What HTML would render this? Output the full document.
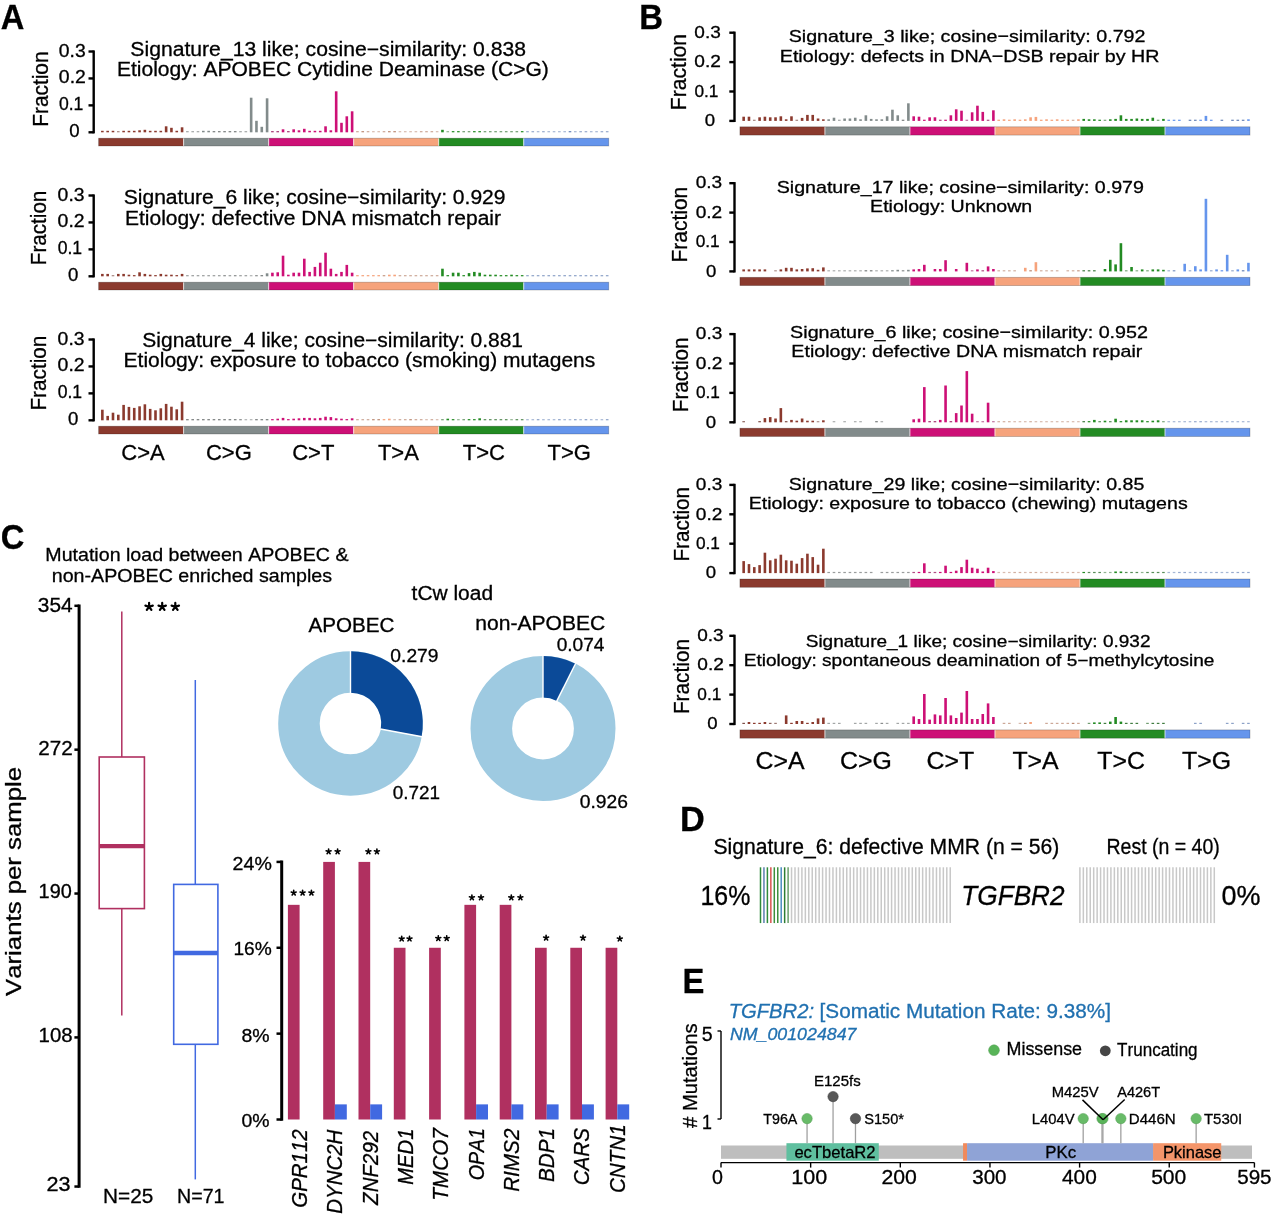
<!DOCTYPE html>
<html><head><meta charset="utf-8"><title>Figure</title>
<style>html,body{margin:0;padding:0;background:#fff;}svg{display:block;filter:blur(0.35px);}text{font-kerning:none;stroke-width:0.3px;}</style>
</head><body>
<svg width="1280" height="1214" viewBox="0 0 1280 1214" font-family="Liberation Sans, sans-serif">
<rect width="1280" height="1214" fill="#fff"/>
<text x="0.69" y="29.40" font-size="35" font-weight="bold" fill="#000" stroke="#000" textLength="23.57" lengthAdjust="spacingAndGlyphs">A</text>
<text x="639.30" y="29.40" font-size="35" font-weight="bold" fill="#000" stroke="#000" textLength="23.80" lengthAdjust="spacingAndGlyphs">B</text>
<text x="0.76" y="549.00" font-size="35" font-weight="bold" fill="#000" stroke="#000" textLength="23.64" lengthAdjust="spacingAndGlyphs">C</text>
<text x="679.95" y="831.40" font-size="35" font-weight="bold" fill="#000" stroke="#000" textLength="24.79" lengthAdjust="spacingAndGlyphs">D</text>
<text x="682.41" y="993.40" font-size="35" font-weight="bold" fill="#000" stroke="#000" textLength="21.88" lengthAdjust="spacingAndGlyphs">E</text>
<line x1="93.70" y1="50.41" x2="93.70" y2="133.40" stroke="#000" stroke-width="2.4"/>
<line x1="88.50" y1="132.30" x2="93.70" y2="132.30" stroke="#000" stroke-width="2.4"/>
<line x1="88.50" y1="105.37" x2="93.70" y2="105.37" stroke="#000" stroke-width="2.4"/>
<line x1="88.50" y1="78.44" x2="93.70" y2="78.44" stroke="#000" stroke-width="2.4"/>
<line x1="88.50" y1="51.51" x2="93.70" y2="51.51" stroke="#000" stroke-width="2.4"/>
<text x="69.17" y="137.30" font-size="18.2" fill="#000" stroke="#000" textLength="10.35" lengthAdjust="spacingAndGlyphs">0</text>
<text x="58.91" y="110.37" font-size="18.2" fill="#000" stroke="#000" textLength="24.45" lengthAdjust="spacingAndGlyphs">0.1</text>
<text x="58.84" y="83.44" font-size="18.2" fill="#000" stroke="#000" textLength="27.04" lengthAdjust="spacingAndGlyphs">0.2</text>
<text x="58.84" y="56.51" font-size="18.2" fill="#000" stroke="#000" textLength="26.91" lengthAdjust="spacingAndGlyphs">0.3</text>
<text transform="translate(47.90,126.81) rotate(-90)" x="0" y="0" font-size="21.3" fill="#000" stroke="#000" textLength="75.37" lengthAdjust="spacingAndGlyphs">Fraction</text>
<rect x="98.60" y="138.20" width="85.02" height="7.80" fill="#8b3a2e"/>
<rect x="183.62" y="138.20" width="85.02" height="7.80" fill="#828b8b"/>
<rect x="268.65" y="138.20" width="85.02" height="7.80" fill="#cd1076"/>
<rect x="353.67" y="138.20" width="85.02" height="7.80" fill="#f6a37c"/>
<rect x="438.70" y="138.20" width="85.02" height="7.80" fill="#238b23"/>
<rect x="523.72" y="138.20" width="85.02" height="7.80" fill="#6595ec"/>
<line x1="183.62" y1="138.20" x2="183.62" y2="146.00" stroke="#ffffff" stroke-width="0.9" opacity="0.8"/>
<line x1="268.65" y1="138.20" x2="268.65" y2="146.00" stroke="#ffffff" stroke-width="0.9" opacity="0.8"/>
<line x1="353.67" y1="138.20" x2="353.67" y2="146.00" stroke="#ffffff" stroke-width="0.9" opacity="0.8"/>
<line x1="438.70" y1="138.20" x2="438.70" y2="146.00" stroke="#ffffff" stroke-width="0.9" opacity="0.8"/>
<line x1="523.72" y1="138.20" x2="523.72" y2="146.00" stroke="#ffffff" stroke-width="0.9" opacity="0.8"/>
<rect x="98.60" y="138.20" width="510.15" height="7.80" fill="none" stroke="#000" stroke-opacity="0.25" stroke-width="0.8"/>
<rect x="101.06" y="130.80" width="2.60" height="1.50" fill="#8b3a2e"/>
<rect x="106.37" y="130.80" width="2.60" height="1.50" fill="#8b3a2e"/>
<rect x="111.69" y="130.80" width="2.60" height="1.50" fill="#8b3a2e"/>
<rect x="117.00" y="131.10" width="2.60" height="1.20" fill="#6f3b33" opacity="0.62"/>
<rect x="122.31" y="130.80" width="2.60" height="1.50" fill="#8b3a2e"/>
<rect x="127.63" y="130.80" width="2.60" height="1.50" fill="#8b3a2e"/>
<rect x="132.94" y="130.80" width="2.60" height="1.50" fill="#8b3a2e"/>
<rect x="138.26" y="130.30" width="2.60" height="2.00" fill="#8b3a2e"/>
<rect x="143.57" y="129.80" width="2.60" height="2.50" fill="#8b3a2e"/>
<rect x="148.88" y="130.80" width="2.60" height="1.50" fill="#8b3a2e"/>
<rect x="154.20" y="130.80" width="2.60" height="1.50" fill="#8b3a2e"/>
<rect x="159.51" y="130.80" width="2.60" height="1.50" fill="#8b3a2e"/>
<rect x="164.83" y="126.30" width="2.60" height="6.00" fill="#8b3a2e"/>
<rect x="170.14" y="127.80" width="2.60" height="4.50" fill="#8b3a2e"/>
<rect x="175.45" y="130.80" width="2.60" height="1.50" fill="#8b3a2e"/>
<rect x="180.77" y="127.30" width="2.60" height="5.00" fill="#8b3a2e"/>
<rect x="186.08" y="131.10" width="2.60" height="1.20" fill="#6a6f6f" opacity="0.62"/>
<rect x="191.40" y="131.10" width="2.60" height="1.20" fill="#6a6f6f" opacity="0.62"/>
<rect x="196.71" y="131.10" width="2.60" height="1.20" fill="#6a6f6f" opacity="0.62"/>
<rect x="202.02" y="130.80" width="2.60" height="1.50" fill="#828b8b"/>
<rect x="207.34" y="130.80" width="2.60" height="1.50" fill="#828b8b"/>
<rect x="212.65" y="131.10" width="2.60" height="1.20" fill="#6a6f6f" opacity="0.90"/>
<rect x="217.97" y="131.10" width="2.60" height="1.20" fill="#6a6f6f" opacity="0.90"/>
<rect x="223.28" y="131.10" width="2.60" height="1.20" fill="#6a6f6f" opacity="0.90"/>
<rect x="228.59" y="131.10" width="2.60" height="1.20" fill="#6a6f6f" opacity="0.90"/>
<rect x="233.91" y="131.10" width="2.60" height="1.20" fill="#6a6f6f" opacity="0.90"/>
<rect x="239.22" y="131.10" width="2.60" height="1.20" fill="#6a6f6f" opacity="0.62"/>
<rect x="244.54" y="131.10" width="2.60" height="1.20" fill="#6a6f6f" opacity="0.62"/>
<rect x="249.85" y="97.70" width="2.60" height="34.60" fill="#828b8b"/>
<rect x="255.16" y="120.80" width="2.60" height="11.50" fill="#828b8b"/>
<rect x="260.48" y="126.80" width="2.60" height="5.50" fill="#828b8b"/>
<rect x="265.79" y="98.30" width="2.60" height="34.00" fill="#828b8b"/>
<rect x="271.11" y="131.10" width="2.60" height="1.20" fill="#9a1f62" opacity="0.90"/>
<rect x="276.42" y="131.10" width="2.60" height="1.20" fill="#9a1f62" opacity="0.90"/>
<rect x="281.74" y="129.30" width="2.60" height="3.00" fill="#cd1076"/>
<rect x="287.05" y="131.10" width="2.60" height="1.20" fill="#9a1f62" opacity="0.90"/>
<rect x="292.36" y="129.30" width="2.60" height="3.00" fill="#cd1076"/>
<rect x="297.68" y="130.30" width="2.60" height="2.00" fill="#cd1076"/>
<rect x="302.99" y="128.80" width="2.60" height="3.50" fill="#cd1076"/>
<rect x="308.31" y="130.80" width="2.60" height="1.50" fill="#cd1076"/>
<rect x="313.62" y="130.80" width="2.60" height="1.50" fill="#cd1076"/>
<rect x="318.93" y="130.80" width="2.60" height="1.50" fill="#cd1076"/>
<rect x="324.25" y="126.30" width="2.60" height="6.00" fill="#cd1076"/>
<rect x="329.56" y="130.30" width="2.60" height="2.00" fill="#cd1076"/>
<rect x="334.88" y="91.30" width="2.60" height="41.00" fill="#cd1076"/>
<rect x="340.19" y="122.80" width="2.60" height="9.50" fill="#cd1076"/>
<rect x="345.50" y="116.30" width="2.60" height="16.00" fill="#cd1076"/>
<rect x="350.82" y="111.30" width="2.60" height="21.00" fill="#cd1076"/>
<rect x="356.13" y="131.10" width="2.60" height="1.20" fill="#b57f66" opacity="0.68"/>
<rect x="361.45" y="131.10" width="2.60" height="1.20" fill="#b57f66" opacity="0.90"/>
<rect x="366.76" y="131.10" width="2.60" height="1.20" fill="#b57f66" opacity="0.68"/>
<rect x="372.07" y="131.10" width="2.60" height="1.20" fill="#b57f66" opacity="0.52"/>
<rect x="377.39" y="131.10" width="2.60" height="1.20" fill="#b57f66" opacity="0.52"/>
<rect x="382.70" y="131.10" width="2.60" height="1.20" fill="#b57f66" opacity="0.68"/>
<rect x="388.02" y="131.10" width="2.60" height="1.20" fill="#b57f66" opacity="0.90"/>
<rect x="393.33" y="131.10" width="2.60" height="1.20" fill="#b57f66" opacity="0.90"/>
<rect x="398.64" y="131.10" width="2.60" height="1.20" fill="#b57f66" opacity="0.52"/>
<rect x="403.96" y="131.10" width="2.60" height="1.20" fill="#b57f66" opacity="0.52"/>
<rect x="409.27" y="131.10" width="2.60" height="1.20" fill="#b57f66" opacity="0.52"/>
<rect x="414.59" y="131.10" width="2.60" height="1.20" fill="#b57f66" opacity="0.52"/>
<rect x="419.90" y="131.10" width="2.60" height="1.20" fill="#b57f66" opacity="0.68"/>
<rect x="425.21" y="131.10" width="2.60" height="1.20" fill="#b57f66" opacity="0.68"/>
<rect x="430.53" y="131.10" width="2.60" height="1.20" fill="#b57f66" opacity="0.68"/>
<rect x="435.84" y="131.10" width="2.60" height="1.20" fill="#b57f66" opacity="0.52"/>
<rect x="441.16" y="129.80" width="2.60" height="2.50" fill="#238b23"/>
<rect x="446.47" y="131.10" width="2.60" height="1.20" fill="#2c6f2c" opacity="0.52"/>
<rect x="451.79" y="131.10" width="2.60" height="1.20" fill="#238b23"/>
<rect x="457.10" y="131.10" width="2.60" height="1.20" fill="#238b23"/>
<rect x="462.41" y="131.10" width="2.60" height="1.20" fill="#2c6f2c" opacity="0.68"/>
<rect x="467.73" y="131.10" width="2.60" height="1.20" fill="#2c6f2c" opacity="0.68"/>
<rect x="473.04" y="131.10" width="2.60" height="1.20" fill="#238b23"/>
<rect x="478.36" y="131.10" width="2.60" height="1.20" fill="#238b23"/>
<rect x="483.67" y="131.10" width="2.60" height="1.20" fill="#2c6f2c" opacity="0.68"/>
<rect x="488.98" y="131.10" width="2.60" height="1.20" fill="#2c6f2c" opacity="0.68"/>
<rect x="494.30" y="131.10" width="2.60" height="1.20" fill="#2c6f2c" opacity="0.68"/>
<rect x="499.61" y="131.10" width="2.60" height="1.20" fill="#2c6f2c" opacity="0.68"/>
<rect x="504.93" y="131.10" width="2.60" height="1.20" fill="#2c6f2c" opacity="0.68"/>
<rect x="510.24" y="131.10" width="2.60" height="1.20" fill="#2c6f2c" opacity="0.68"/>
<rect x="515.55" y="131.10" width="2.60" height="1.20" fill="#2c6f2c" opacity="0.68"/>
<rect x="520.87" y="131.10" width="2.60" height="1.20" fill="#238b23"/>
<rect x="526.18" y="131.10" width="2.60" height="1.20" fill="#5776ae" opacity="0.62"/>
<rect x="531.50" y="131.10" width="2.60" height="1.20" fill="#5776ae" opacity="0.62"/>
<rect x="536.81" y="131.10" width="2.60" height="1.20" fill="#5776ae" opacity="0.52"/>
<rect x="542.12" y="131.10" width="2.60" height="1.20" fill="#5776ae" opacity="0.62"/>
<rect x="547.44" y="131.10" width="2.60" height="1.20" fill="#5776ae" opacity="0.52"/>
<rect x="552.75" y="131.10" width="2.60" height="1.20" fill="#5776ae" opacity="0.52"/>
<rect x="558.07" y="131.10" width="2.60" height="1.20" fill="#5776ae" opacity="0.52"/>
<rect x="563.38" y="131.10" width="2.60" height="1.20" fill="#5776ae" opacity="0.52"/>
<rect x="568.69" y="131.10" width="2.60" height="1.20" fill="#5776ae" opacity="0.90"/>
<rect x="574.01" y="131.10" width="2.60" height="1.20" fill="#5776ae" opacity="0.52"/>
<rect x="579.32" y="131.10" width="2.60" height="1.20" fill="#5776ae" opacity="0.62"/>
<rect x="584.64" y="131.10" width="2.60" height="1.20" fill="#5776ae" opacity="0.62"/>
<rect x="589.95" y="131.10" width="2.60" height="1.20" fill="#5776ae" opacity="0.52"/>
<rect x="595.26" y="131.10" width="2.60" height="1.20" fill="#5776ae" opacity="0.52"/>
<rect x="600.58" y="131.10" width="2.60" height="1.20" fill="#5776ae" opacity="0.62"/>
<rect x="605.89" y="131.10" width="2.60" height="1.20" fill="#5776ae" opacity="0.62"/>
<text x="130.34" y="56.30" font-size="20.0" fill="#000" stroke="#000" textLength="395.68" lengthAdjust="spacingAndGlyphs">Signature_13 like; cosine−similarity: 0.838</text>
<text x="116.98" y="76.30" font-size="20.0" fill="#000" stroke="#000" textLength="431.83" lengthAdjust="spacingAndGlyphs">Etiology: APOBEC Cytidine Deaminase (C&gt;G)</text>
<line x1="93.70" y1="194.41" x2="93.70" y2="277.40" stroke="#000" stroke-width="2.4"/>
<line x1="88.50" y1="276.30" x2="93.70" y2="276.30" stroke="#000" stroke-width="2.4"/>
<line x1="88.50" y1="249.37" x2="93.70" y2="249.37" stroke="#000" stroke-width="2.4"/>
<line x1="88.50" y1="222.44" x2="93.70" y2="222.44" stroke="#000" stroke-width="2.4"/>
<line x1="88.50" y1="195.51" x2="93.70" y2="195.51" stroke="#000" stroke-width="2.4"/>
<text x="68.07" y="281.30" font-size="18.2" fill="#000" stroke="#000" textLength="10.35" lengthAdjust="spacingAndGlyphs">0</text>
<text x="57.71" y="254.37" font-size="18.2" fill="#000" stroke="#000" textLength="24.45" lengthAdjust="spacingAndGlyphs">0.1</text>
<text x="57.64" y="227.44" font-size="18.2" fill="#000" stroke="#000" textLength="27.04" lengthAdjust="spacingAndGlyphs">0.2</text>
<text x="57.64" y="200.51" font-size="18.2" fill="#000" stroke="#000" textLength="26.91" lengthAdjust="spacingAndGlyphs">0.3</text>
<text transform="translate(45.90,265.19) rotate(-90)" x="0" y="0" font-size="21.3" fill="#000" stroke="#000" textLength="74.53" lengthAdjust="spacingAndGlyphs">Fraction</text>
<rect x="98.60" y="282.20" width="85.02" height="7.80" fill="#8b3a2e"/>
<rect x="183.62" y="282.20" width="85.02" height="7.80" fill="#828b8b"/>
<rect x="268.65" y="282.20" width="85.02" height="7.80" fill="#cd1076"/>
<rect x="353.67" y="282.20" width="85.02" height="7.80" fill="#f6a37c"/>
<rect x="438.70" y="282.20" width="85.02" height="7.80" fill="#238b23"/>
<rect x="523.72" y="282.20" width="85.02" height="7.80" fill="#6595ec"/>
<line x1="183.62" y1="282.20" x2="183.62" y2="290.00" stroke="#ffffff" stroke-width="0.9" opacity="0.8"/>
<line x1="268.65" y1="282.20" x2="268.65" y2="290.00" stroke="#ffffff" stroke-width="0.9" opacity="0.8"/>
<line x1="353.67" y1="282.20" x2="353.67" y2="290.00" stroke="#ffffff" stroke-width="0.9" opacity="0.8"/>
<line x1="438.70" y1="282.20" x2="438.70" y2="290.00" stroke="#ffffff" stroke-width="0.9" opacity="0.8"/>
<line x1="523.72" y1="282.20" x2="523.72" y2="290.00" stroke="#ffffff" stroke-width="0.9" opacity="0.8"/>
<rect x="98.60" y="282.20" width="510.15" height="7.80" fill="none" stroke="#000" stroke-opacity="0.25" stroke-width="0.8"/>
<rect x="101.06" y="273.90" width="2.60" height="2.40" fill="#8b3a2e"/>
<rect x="106.37" y="273.90" width="2.60" height="2.40" fill="#8b3a2e"/>
<rect x="111.69" y="275.10" width="2.60" height="1.20" fill="#6f3b33" opacity="0.62"/>
<rect x="117.00" y="273.90" width="2.60" height="2.40" fill="#8b3a2e"/>
<rect x="122.31" y="273.90" width="2.60" height="2.40" fill="#8b3a2e"/>
<rect x="127.63" y="274.70" width="2.60" height="1.60" fill="#8b3a2e"/>
<rect x="132.94" y="275.10" width="2.60" height="1.20" fill="#8b3a2e"/>
<rect x="138.26" y="272.30" width="2.60" height="4.00" fill="#8b3a2e"/>
<rect x="143.57" y="273.90" width="2.60" height="2.40" fill="#8b3a2e"/>
<rect x="148.88" y="274.70" width="2.60" height="1.60" fill="#8b3a2e"/>
<rect x="154.20" y="275.10" width="2.60" height="1.20" fill="#8b3a2e"/>
<rect x="159.51" y="273.90" width="2.60" height="2.40" fill="#8b3a2e"/>
<rect x="164.83" y="274.70" width="2.60" height="1.60" fill="#8b3a2e"/>
<rect x="170.14" y="274.70" width="2.60" height="1.60" fill="#8b3a2e"/>
<rect x="175.45" y="275.10" width="2.60" height="1.20" fill="#8b3a2e"/>
<rect x="180.77" y="273.90" width="2.60" height="2.40" fill="#8b3a2e"/>
<rect x="186.08" y="275.10" width="2.60" height="1.20" fill="#6a6f6f" opacity="0.68"/>
<rect x="191.40" y="275.10" width="2.60" height="1.20" fill="#6a6f6f" opacity="0.68"/>
<rect x="196.71" y="275.10" width="2.60" height="1.20" fill="#6a6f6f" opacity="0.68"/>
<rect x="202.02" y="275.10" width="2.60" height="1.20" fill="#6a6f6f" opacity="0.68"/>
<rect x="207.34" y="275.10" width="2.60" height="1.20" fill="#6a6f6f" opacity="0.68"/>
<rect x="212.65" y="275.10" width="2.60" height="1.20" fill="#6a6f6f" opacity="0.68"/>
<rect x="217.97" y="275.10" width="2.60" height="1.20" fill="#6a6f6f" opacity="0.68"/>
<rect x="223.28" y="275.10" width="2.60" height="1.20" fill="#6a6f6f" opacity="0.79"/>
<rect x="228.59" y="275.10" width="2.60" height="1.20" fill="#6a6f6f" opacity="0.68"/>
<rect x="233.91" y="275.10" width="2.60" height="1.20" fill="#6a6f6f" opacity="0.79"/>
<rect x="239.22" y="275.10" width="2.60" height="1.20" fill="#6a6f6f" opacity="0.68"/>
<rect x="244.54" y="275.10" width="2.60" height="1.20" fill="#6a6f6f" opacity="0.68"/>
<rect x="249.85" y="275.10" width="2.60" height="1.20" fill="#6a6f6f" opacity="0.52"/>
<rect x="255.16" y="275.10" width="2.60" height="1.20" fill="#6a6f6f" opacity="0.79"/>
<rect x="260.48" y="275.10" width="2.60" height="1.20" fill="#6a6f6f" opacity="0.90"/>
<rect x="265.79" y="273.30" width="2.60" height="3.00" fill="#828b8b"/>
<rect x="271.11" y="272.70" width="2.60" height="3.60" fill="#cd1076"/>
<rect x="276.42" y="272.30" width="2.60" height="4.00" fill="#cd1076"/>
<rect x="281.74" y="255.70" width="2.60" height="20.60" fill="#cd1076"/>
<rect x="287.05" y="274.70" width="2.60" height="1.60" fill="#cd1076"/>
<rect x="292.36" y="272.70" width="2.60" height="3.60" fill="#cd1076"/>
<rect x="297.68" y="272.70" width="2.60" height="3.60" fill="#cd1076"/>
<rect x="302.99" y="258.70" width="2.60" height="17.60" fill="#cd1076"/>
<rect x="308.31" y="271.90" width="2.60" height="4.40" fill="#cd1076"/>
<rect x="313.62" y="266.90" width="2.60" height="9.40" fill="#cd1076"/>
<rect x="318.93" y="262.70" width="2.60" height="13.60" fill="#cd1076"/>
<rect x="324.25" y="252.70" width="2.60" height="23.60" fill="#cd1076"/>
<rect x="329.56" y="268.70" width="2.60" height="7.60" fill="#cd1076"/>
<rect x="334.88" y="273.90" width="2.60" height="2.40" fill="#cd1076"/>
<rect x="340.19" y="271.90" width="2.60" height="4.40" fill="#cd1076"/>
<rect x="345.50" y="264.90" width="2.60" height="11.40" fill="#cd1076"/>
<rect x="350.82" y="272.70" width="2.60" height="3.60" fill="#cd1076"/>
<rect x="356.13" y="275.10" width="2.60" height="1.20" fill="#f6a37c"/>
<rect x="361.45" y="275.10" width="2.60" height="1.20" fill="#f6a37c"/>
<rect x="366.76" y="275.10" width="2.60" height="1.20" fill="#f6a37c"/>
<rect x="372.07" y="275.10" width="2.60" height="1.20" fill="#f6a37c"/>
<rect x="377.39" y="275.10" width="2.60" height="1.20" fill="#f6a37c"/>
<rect x="382.70" y="275.10" width="2.60" height="1.20" fill="#b57f66" opacity="0.79"/>
<rect x="388.02" y="274.70" width="2.60" height="1.60" fill="#f6a37c"/>
<rect x="393.33" y="274.70" width="2.60" height="1.60" fill="#f6a37c"/>
<rect x="398.64" y="275.10" width="2.60" height="1.20" fill="#b57f66" opacity="0.68"/>
<rect x="403.96" y="275.10" width="2.60" height="1.20" fill="#b57f66" opacity="0.68"/>
<rect x="409.27" y="275.10" width="2.60" height="1.20" fill="#b57f66" opacity="0.68"/>
<rect x="414.59" y="275.10" width="2.60" height="1.20" fill="#b57f66" opacity="0.68"/>
<rect x="419.90" y="275.10" width="2.60" height="1.20" fill="#b57f66" opacity="0.68"/>
<rect x="425.21" y="275.10" width="2.60" height="1.20" fill="#b57f66" opacity="0.68"/>
<rect x="430.53" y="275.10" width="2.60" height="1.20" fill="#b57f66" opacity="0.68"/>
<rect x="435.84" y="275.10" width="2.60" height="1.20" fill="#b57f66" opacity="0.68"/>
<rect x="441.16" y="268.70" width="2.60" height="7.60" fill="#238b23"/>
<rect x="446.47" y="275.10" width="2.60" height="1.20" fill="#238b23"/>
<rect x="451.79" y="272.70" width="2.60" height="3.60" fill="#238b23"/>
<rect x="457.10" y="272.70" width="2.60" height="3.60" fill="#238b23"/>
<rect x="462.41" y="275.10" width="2.60" height="1.20" fill="#238b23"/>
<rect x="467.73" y="273.10" width="2.60" height="3.20" fill="#238b23"/>
<rect x="473.04" y="271.90" width="2.60" height="4.40" fill="#238b23"/>
<rect x="478.36" y="272.70" width="2.60" height="3.60" fill="#238b23"/>
<rect x="483.67" y="274.70" width="2.60" height="1.60" fill="#238b23"/>
<rect x="488.98" y="274.70" width="2.60" height="1.60" fill="#238b23"/>
<rect x="494.30" y="274.70" width="2.60" height="1.60" fill="#238b23"/>
<rect x="499.61" y="275.10" width="2.60" height="1.20" fill="#238b23"/>
<rect x="504.93" y="275.10" width="2.60" height="1.20" fill="#238b23"/>
<rect x="510.24" y="274.70" width="2.60" height="1.60" fill="#238b23"/>
<rect x="515.55" y="275.10" width="2.60" height="1.20" fill="#238b23"/>
<rect x="520.87" y="275.10" width="2.60" height="1.20" fill="#238b23"/>
<rect x="526.18" y="275.10" width="2.60" height="1.20" fill="#5776ae" opacity="0.68"/>
<rect x="531.50" y="275.10" width="2.60" height="1.20" fill="#5776ae" opacity="0.68"/>
<rect x="536.81" y="275.10" width="2.60" height="1.20" fill="#5776ae" opacity="0.68"/>
<rect x="542.12" y="275.10" width="2.60" height="1.20" fill="#5776ae" opacity="0.68"/>
<rect x="547.44" y="275.10" width="2.60" height="1.20" fill="#5776ae" opacity="0.68"/>
<rect x="552.75" y="275.10" width="2.60" height="1.20" fill="#5776ae" opacity="0.68"/>
<rect x="558.07" y="275.10" width="2.60" height="1.20" fill="#5776ae" opacity="0.68"/>
<rect x="563.38" y="275.10" width="2.60" height="1.20" fill="#5776ae" opacity="0.68"/>
<rect x="568.69" y="275.10" width="2.60" height="1.20" fill="#5776ae" opacity="0.68"/>
<rect x="574.01" y="275.10" width="2.60" height="1.20" fill="#5776ae" opacity="0.68"/>
<rect x="579.32" y="275.10" width="2.60" height="1.20" fill="#5776ae" opacity="0.68"/>
<rect x="584.64" y="275.10" width="2.60" height="1.20" fill="#5776ae" opacity="0.68"/>
<rect x="589.95" y="275.10" width="2.60" height="1.20" fill="#5776ae" opacity="0.68"/>
<rect x="595.26" y="275.10" width="2.60" height="1.20" fill="#5776ae" opacity="0.68"/>
<rect x="600.58" y="275.10" width="2.60" height="1.20" fill="#5776ae" opacity="0.68"/>
<rect x="605.89" y="275.10" width="2.60" height="1.20" fill="#5776ae" opacity="0.68"/>
<text x="123.74" y="204.30" font-size="20.0" fill="#000" stroke="#000" textLength="381.75" lengthAdjust="spacingAndGlyphs">Signature_6 like; cosine−similarity: 0.929</text>
<text x="124.98" y="224.60" font-size="20.0" fill="#000" stroke="#000" textLength="376.07" lengthAdjust="spacingAndGlyphs">Etiology: defective DNA mismatch repair</text>
<line x1="93.70" y1="338.41" x2="93.70" y2="421.40" stroke="#000" stroke-width="2.4"/>
<line x1="88.50" y1="420.30" x2="93.70" y2="420.30" stroke="#000" stroke-width="2.4"/>
<line x1="88.50" y1="393.37" x2="93.70" y2="393.37" stroke="#000" stroke-width="2.4"/>
<line x1="88.50" y1="366.44" x2="93.70" y2="366.44" stroke="#000" stroke-width="2.4"/>
<line x1="88.50" y1="339.51" x2="93.70" y2="339.51" stroke="#000" stroke-width="2.4"/>
<text x="68.07" y="425.30" font-size="18.2" fill="#000" stroke="#000" textLength="10.35" lengthAdjust="spacingAndGlyphs">0</text>
<text x="57.71" y="398.37" font-size="18.2" fill="#000" stroke="#000" textLength="24.45" lengthAdjust="spacingAndGlyphs">0.1</text>
<text x="57.64" y="371.44" font-size="18.2" fill="#000" stroke="#000" textLength="27.04" lengthAdjust="spacingAndGlyphs">0.2</text>
<text x="57.64" y="344.51" font-size="18.2" fill="#000" stroke="#000" textLength="26.91" lengthAdjust="spacingAndGlyphs">0.3</text>
<text transform="translate(46.30,410.60) rotate(-90)" x="0" y="0" font-size="21.3" fill="#000" stroke="#000" textLength="74.95" lengthAdjust="spacingAndGlyphs">Fraction</text>
<rect x="98.60" y="426.20" width="85.02" height="7.80" fill="#8b3a2e"/>
<rect x="183.62" y="426.20" width="85.02" height="7.80" fill="#828b8b"/>
<rect x="268.65" y="426.20" width="85.02" height="7.80" fill="#cd1076"/>
<rect x="353.67" y="426.20" width="85.02" height="7.80" fill="#f6a37c"/>
<rect x="438.70" y="426.20" width="85.02" height="7.80" fill="#238b23"/>
<rect x="523.72" y="426.20" width="85.02" height="7.80" fill="#6595ec"/>
<line x1="183.62" y1="426.20" x2="183.62" y2="434.00" stroke="#ffffff" stroke-width="0.9" opacity="0.8"/>
<line x1="268.65" y1="426.20" x2="268.65" y2="434.00" stroke="#ffffff" stroke-width="0.9" opacity="0.8"/>
<line x1="353.67" y1="426.20" x2="353.67" y2="434.00" stroke="#ffffff" stroke-width="0.9" opacity="0.8"/>
<line x1="438.70" y1="426.20" x2="438.70" y2="434.00" stroke="#ffffff" stroke-width="0.9" opacity="0.8"/>
<line x1="523.72" y1="426.20" x2="523.72" y2="434.00" stroke="#ffffff" stroke-width="0.9" opacity="0.8"/>
<rect x="98.60" y="426.20" width="510.15" height="7.80" fill="none" stroke="#000" stroke-opacity="0.25" stroke-width="0.8"/>
<rect x="101.06" y="409.70" width="2.60" height="10.60" fill="#8b3a2e"/>
<rect x="106.37" y="415.90" width="2.60" height="4.40" fill="#8b3a2e"/>
<rect x="111.69" y="412.70" width="2.60" height="7.60" fill="#8b3a2e"/>
<rect x="117.00" y="414.70" width="2.60" height="5.60" fill="#8b3a2e"/>
<rect x="122.31" y="404.90" width="2.60" height="15.40" fill="#8b3a2e"/>
<rect x="127.63" y="406.90" width="2.60" height="13.40" fill="#8b3a2e"/>
<rect x="132.94" y="407.90" width="2.60" height="12.40" fill="#8b3a2e"/>
<rect x="138.26" y="406.30" width="2.60" height="14.00" fill="#8b3a2e"/>
<rect x="143.57" y="404.30" width="2.60" height="16.00" fill="#8b3a2e"/>
<rect x="148.88" y="408.90" width="2.60" height="11.40" fill="#8b3a2e"/>
<rect x="154.20" y="410.30" width="2.60" height="10.00" fill="#8b3a2e"/>
<rect x="159.51" y="408.30" width="2.60" height="12.00" fill="#8b3a2e"/>
<rect x="164.83" y="403.90" width="2.60" height="16.40" fill="#8b3a2e"/>
<rect x="170.14" y="406.70" width="2.60" height="13.60" fill="#8b3a2e"/>
<rect x="175.45" y="409.30" width="2.60" height="11.00" fill="#8b3a2e"/>
<rect x="180.77" y="401.70" width="2.60" height="18.60" fill="#8b3a2e"/>
<rect x="186.08" y="419.10" width="2.60" height="1.20" fill="#6a6f6f" opacity="0.90"/>
<rect x="191.40" y="419.10" width="2.60" height="1.20" fill="#6a6f6f" opacity="0.90"/>
<rect x="196.71" y="419.10" width="2.60" height="1.20" fill="#6a6f6f" opacity="0.90"/>
<rect x="202.02" y="419.10" width="2.60" height="1.20" fill="#6a6f6f" opacity="0.90"/>
<rect x="207.34" y="419.10" width="2.60" height="1.20" fill="#6a6f6f" opacity="0.90"/>
<rect x="212.65" y="419.10" width="2.60" height="1.20" fill="#6a6f6f" opacity="0.90"/>
<rect x="217.97" y="419.10" width="2.60" height="1.20" fill="#6a6f6f" opacity="0.90"/>
<rect x="223.28" y="419.10" width="2.60" height="1.20" fill="#6a6f6f" opacity="0.90"/>
<rect x="228.59" y="419.10" width="2.60" height="1.20" fill="#6a6f6f" opacity="0.90"/>
<rect x="233.91" y="419.10" width="2.60" height="1.20" fill="#6a6f6f" opacity="0.90"/>
<rect x="239.22" y="419.10" width="2.60" height="1.20" fill="#6a6f6f" opacity="0.79"/>
<rect x="244.54" y="419.10" width="2.60" height="1.20" fill="#6a6f6f" opacity="0.52"/>
<rect x="249.85" y="419.10" width="2.60" height="1.20" fill="#6a6f6f" opacity="0.52"/>
<rect x="255.16" y="419.10" width="2.60" height="1.20" fill="#6a6f6f" opacity="0.90"/>
<rect x="260.48" y="419.10" width="2.60" height="1.20" fill="#6a6f6f" opacity="0.90"/>
<rect x="265.79" y="419.10" width="2.60" height="1.20" fill="#6a6f6f" opacity="0.90"/>
<rect x="271.11" y="419.10" width="2.60" height="1.20" fill="#cd1076"/>
<rect x="276.42" y="418.70" width="2.60" height="1.60" fill="#cd1076"/>
<rect x="281.74" y="417.90" width="2.60" height="2.40" fill="#cd1076"/>
<rect x="287.05" y="419.10" width="2.60" height="1.20" fill="#cd1076"/>
<rect x="292.36" y="418.70" width="2.60" height="1.60" fill="#cd1076"/>
<rect x="297.68" y="418.30" width="2.60" height="2.00" fill="#cd1076"/>
<rect x="302.99" y="417.90" width="2.60" height="2.40" fill="#cd1076"/>
<rect x="308.31" y="417.90" width="2.60" height="2.40" fill="#cd1076"/>
<rect x="313.62" y="418.30" width="2.60" height="2.00" fill="#cd1076"/>
<rect x="318.93" y="417.90" width="2.60" height="2.40" fill="#cd1076"/>
<rect x="324.25" y="416.70" width="2.60" height="3.60" fill="#cd1076"/>
<rect x="329.56" y="417.10" width="2.60" height="3.20" fill="#cd1076"/>
<rect x="334.88" y="418.30" width="2.60" height="2.00" fill="#cd1076"/>
<rect x="340.19" y="418.70" width="2.60" height="1.60" fill="#cd1076"/>
<rect x="345.50" y="419.10" width="2.60" height="1.20" fill="#cd1076"/>
<rect x="350.82" y="418.30" width="2.60" height="2.00" fill="#cd1076"/>
<rect x="356.13" y="419.10" width="2.60" height="1.20" fill="#b57f66" opacity="0.68"/>
<rect x="361.45" y="419.10" width="2.60" height="1.20" fill="#b57f66" opacity="0.68"/>
<rect x="366.76" y="419.10" width="2.60" height="1.20" fill="#b57f66" opacity="0.68"/>
<rect x="372.07" y="419.10" width="2.60" height="1.20" fill="#b57f66" opacity="0.90"/>
<rect x="377.39" y="419.10" width="2.60" height="1.20" fill="#b57f66" opacity="0.90"/>
<rect x="382.70" y="419.10" width="2.60" height="1.20" fill="#f6a37c"/>
<rect x="388.02" y="418.70" width="2.60" height="1.60" fill="#f6a37c"/>
<rect x="393.33" y="419.10" width="2.60" height="1.20" fill="#b57f66" opacity="0.52"/>
<rect x="398.64" y="419.10" width="2.60" height="1.20" fill="#b57f66" opacity="0.68"/>
<rect x="403.96" y="419.10" width="2.60" height="1.20" fill="#b57f66" opacity="0.68"/>
<rect x="409.27" y="419.10" width="2.60" height="1.20" fill="#b57f66" opacity="0.90"/>
<rect x="414.59" y="419.10" width="2.60" height="1.20" fill="#b57f66" opacity="0.68"/>
<rect x="419.90" y="419.10" width="2.60" height="1.20" fill="#b57f66" opacity="0.68"/>
<rect x="425.21" y="419.10" width="2.60" height="1.20" fill="#b57f66" opacity="0.52"/>
<rect x="430.53" y="419.10" width="2.60" height="1.20" fill="#b57f66" opacity="0.68"/>
<rect x="435.84" y="419.10" width="2.60" height="1.20" fill="#b57f66" opacity="0.52"/>
<rect x="441.16" y="419.10" width="2.60" height="1.20" fill="#2c6f2c" opacity="0.68"/>
<rect x="446.47" y="418.70" width="2.60" height="1.60" fill="#238b23"/>
<rect x="451.79" y="419.10" width="2.60" height="1.20" fill="#238b23"/>
<rect x="457.10" y="419.10" width="2.60" height="1.20" fill="#2c6f2c" opacity="0.52"/>
<rect x="462.41" y="419.10" width="2.60" height="1.20" fill="#2c6f2c" opacity="0.68"/>
<rect x="467.73" y="419.10" width="2.60" height="1.20" fill="#238b23"/>
<rect x="473.04" y="419.10" width="2.60" height="1.20" fill="#238b23"/>
<rect x="478.36" y="418.30" width="2.60" height="2.00" fill="#238b23"/>
<rect x="483.67" y="419.10" width="2.60" height="1.20" fill="#2c6f2c" opacity="0.79"/>
<rect x="488.98" y="419.10" width="2.60" height="1.20" fill="#2c6f2c" opacity="0.79"/>
<rect x="494.30" y="419.10" width="2.60" height="1.20" fill="#2c6f2c" opacity="0.79"/>
<rect x="499.61" y="419.10" width="2.60" height="1.20" fill="#2c6f2c" opacity="0.79"/>
<rect x="504.93" y="419.10" width="2.60" height="1.20" fill="#2c6f2c" opacity="0.79"/>
<rect x="510.24" y="419.10" width="2.60" height="1.20" fill="#2c6f2c" opacity="0.52"/>
<rect x="515.55" y="419.10" width="2.60" height="1.20" fill="#2c6f2c" opacity="0.79"/>
<rect x="520.87" y="419.10" width="2.60" height="1.20" fill="#2c6f2c" opacity="0.79"/>
<rect x="526.18" y="419.10" width="2.60" height="1.20" fill="#5776ae" opacity="0.52"/>
<rect x="531.50" y="419.10" width="2.60" height="1.20" fill="#5776ae" opacity="0.52"/>
<rect x="536.81" y="419.10" width="2.60" height="1.20" fill="#5776ae" opacity="0.68"/>
<rect x="542.12" y="419.10" width="2.60" height="1.20" fill="#5776ae" opacity="0.52"/>
<rect x="547.44" y="419.10" width="2.60" height="1.20" fill="#5776ae" opacity="0.52"/>
<rect x="552.75" y="419.10" width="2.60" height="1.20" fill="#5776ae" opacity="0.52"/>
<rect x="558.07" y="419.10" width="2.60" height="1.20" fill="#5776ae" opacity="0.68"/>
<rect x="563.38" y="419.10" width="2.60" height="1.20" fill="#5776ae" opacity="0.52"/>
<rect x="568.69" y="419.10" width="2.60" height="1.20" fill="#5776ae" opacity="0.52"/>
<rect x="574.01" y="419.10" width="2.60" height="1.20" fill="#5776ae" opacity="0.68"/>
<rect x="579.32" y="419.10" width="2.60" height="1.20" fill="#5776ae" opacity="0.52"/>
<rect x="584.64" y="419.10" width="2.60" height="1.20" fill="#5776ae" opacity="0.68"/>
<rect x="589.95" y="419.10" width="2.60" height="1.20" fill="#5776ae" opacity="0.52"/>
<rect x="595.26" y="419.10" width="2.60" height="1.20" fill="#5776ae" opacity="0.52"/>
<rect x="600.58" y="419.10" width="2.60" height="1.20" fill="#5776ae" opacity="0.52"/>
<rect x="605.89" y="419.10" width="2.60" height="1.20" fill="#5776ae" opacity="0.68"/>
<text x="142.35" y="346.90" font-size="20.0" fill="#000" stroke="#000" textLength="380.68" lengthAdjust="spacingAndGlyphs">Signature_4 like; cosine−similarity: 0.881</text>
<text x="123.58" y="366.80" font-size="20.0" fill="#000" stroke="#000" textLength="471.68" lengthAdjust="spacingAndGlyphs">Etiology: exposure to tobacco (smoking) mutagens</text>
<line x1="734.50" y1="31.60" x2="734.50" y2="122.00" stroke="#000" stroke-width="2.4"/>
<line x1="729.30" y1="120.90" x2="734.50" y2="120.90" stroke="#000" stroke-width="2.4"/>
<line x1="729.30" y1="91.50" x2="734.50" y2="91.50" stroke="#000" stroke-width="2.4"/>
<line x1="729.30" y1="62.10" x2="734.50" y2="62.10" stroke="#000" stroke-width="2.4"/>
<line x1="729.30" y1="32.70" x2="734.50" y2="32.70" stroke="#000" stroke-width="2.4"/>
<text x="704.77" y="126.10" font-size="16.8" fill="#000" stroke="#000" textLength="10.35" lengthAdjust="spacingAndGlyphs">0</text>
<text x="694.43" y="96.70" font-size="16.8" fill="#000" stroke="#000" textLength="24.02" lengthAdjust="spacingAndGlyphs">0.1</text>
<text x="694.35" y="67.30" font-size="16.8" fill="#000" stroke="#000" textLength="26.61" lengthAdjust="spacingAndGlyphs">0.2</text>
<text x="694.36" y="37.90" font-size="16.8" fill="#000" stroke="#000" textLength="26.48" lengthAdjust="spacingAndGlyphs">0.3</text>
<text transform="translate(685.70,110.23) rotate(-90)" x="0" y="0" font-size="21.3" fill="#000" stroke="#000" textLength="76.30" lengthAdjust="spacingAndGlyphs">Fraction</text>
<rect x="739.90" y="126.80" width="85.02" height="8.30" fill="#8b3a2e"/>
<rect x="824.92" y="126.80" width="85.02" height="8.30" fill="#828b8b"/>
<rect x="909.93" y="126.80" width="85.02" height="8.30" fill="#cd1076"/>
<rect x="994.95" y="126.80" width="85.02" height="8.30" fill="#f6a37c"/>
<rect x="1079.97" y="126.80" width="85.02" height="8.30" fill="#238b23"/>
<rect x="1164.98" y="126.80" width="85.02" height="8.30" fill="#6595ec"/>
<line x1="824.92" y1="126.80" x2="824.92" y2="135.10" stroke="#ffffff" stroke-width="0.9" opacity="0.8"/>
<line x1="909.93" y1="126.80" x2="909.93" y2="135.10" stroke="#ffffff" stroke-width="0.9" opacity="0.8"/>
<line x1="994.95" y1="126.80" x2="994.95" y2="135.10" stroke="#ffffff" stroke-width="0.9" opacity="0.8"/>
<line x1="1079.97" y1="126.80" x2="1079.97" y2="135.10" stroke="#ffffff" stroke-width="0.9" opacity="0.8"/>
<line x1="1164.98" y1="126.80" x2="1164.98" y2="135.10" stroke="#ffffff" stroke-width="0.9" opacity="0.8"/>
<rect x="739.90" y="126.80" width="510.10" height="8.30" fill="none" stroke="#000" stroke-opacity="0.25" stroke-width="0.8"/>
<rect x="742.36" y="116.70" width="2.60" height="4.20" fill="#8b3a2e"/>
<rect x="747.67" y="116.70" width="2.60" height="4.20" fill="#8b3a2e"/>
<rect x="752.98" y="119.70" width="2.60" height="1.20" fill="#6f3b33" opacity="0.62"/>
<rect x="758.30" y="117.30" width="2.60" height="3.60" fill="#8b3a2e"/>
<rect x="763.61" y="116.70" width="2.60" height="4.20" fill="#8b3a2e"/>
<rect x="768.92" y="117.30" width="2.60" height="3.60" fill="#8b3a2e"/>
<rect x="774.24" y="117.30" width="2.60" height="3.60" fill="#8b3a2e"/>
<rect x="779.55" y="116.30" width="2.60" height="4.60" fill="#8b3a2e"/>
<rect x="784.87" y="119.30" width="2.60" height="1.60" fill="#8b3a2e"/>
<rect x="790.18" y="116.30" width="2.60" height="4.60" fill="#8b3a2e"/>
<rect x="795.49" y="119.70" width="2.60" height="1.20" fill="#6f3b33" opacity="0.62"/>
<rect x="800.81" y="117.90" width="2.60" height="3.00" fill="#8b3a2e"/>
<rect x="806.12" y="114.90" width="2.60" height="6.00" fill="#8b3a2e"/>
<rect x="811.43" y="114.90" width="2.60" height="6.00" fill="#8b3a2e"/>
<rect x="816.75" y="118.50" width="2.60" height="2.40" fill="#8b3a2e"/>
<rect x="822.06" y="119.30" width="2.60" height="1.60" fill="#8b3a2e"/>
<rect x="827.37" y="119.30" width="2.60" height="1.60" fill="#828b8b"/>
<rect x="832.69" y="117.70" width="2.60" height="3.20" fill="#828b8b"/>
<rect x="838.00" y="119.70" width="2.60" height="1.20" fill="#6a6f6f" opacity="0.62"/>
<rect x="843.31" y="118.50" width="2.60" height="2.40" fill="#828b8b"/>
<rect x="848.63" y="118.50" width="2.60" height="2.40" fill="#828b8b"/>
<rect x="853.94" y="117.70" width="2.60" height="3.20" fill="#828b8b"/>
<rect x="859.25" y="119.30" width="2.60" height="1.60" fill="#828b8b"/>
<rect x="864.57" y="115.30" width="2.60" height="5.60" fill="#828b8b"/>
<rect x="869.88" y="118.90" width="2.60" height="2.00" fill="#828b8b"/>
<rect x="875.20" y="119.30" width="2.60" height="1.60" fill="#828b8b"/>
<rect x="880.51" y="119.30" width="2.60" height="1.60" fill="#828b8b"/>
<rect x="885.82" y="116.30" width="2.60" height="4.60" fill="#828b8b"/>
<rect x="891.14" y="109.70" width="2.60" height="11.20" fill="#828b8b"/>
<rect x="896.45" y="115.30" width="2.60" height="5.60" fill="#828b8b"/>
<rect x="901.76" y="119.70" width="2.60" height="1.20" fill="#6a6f6f" opacity="0.90"/>
<rect x="907.08" y="103.30" width="2.60" height="17.60" fill="#828b8b"/>
<rect x="912.39" y="116.30" width="2.60" height="4.60" fill="#cd1076"/>
<rect x="917.70" y="116.70" width="2.60" height="4.20" fill="#cd1076"/>
<rect x="923.02" y="119.70" width="2.60" height="1.20" fill="#cd1076"/>
<rect x="928.33" y="117.30" width="2.60" height="3.60" fill="#cd1076"/>
<rect x="933.64" y="117.30" width="2.60" height="3.60" fill="#cd1076"/>
<rect x="938.96" y="119.70" width="2.60" height="1.20" fill="#9a1f62" opacity="0.79"/>
<rect x="944.27" y="119.70" width="2.60" height="1.20" fill="#cd1076"/>
<rect x="949.58" y="115.30" width="2.60" height="5.60" fill="#cd1076"/>
<rect x="954.90" y="109.30" width="2.60" height="11.60" fill="#cd1076"/>
<rect x="960.21" y="110.70" width="2.60" height="10.20" fill="#cd1076"/>
<rect x="965.53" y="119.70" width="2.60" height="1.20" fill="#9a1f62" opacity="0.62"/>
<rect x="970.84" y="112.30" width="2.60" height="8.60" fill="#cd1076"/>
<rect x="976.15" y="105.70" width="2.60" height="15.20" fill="#cd1076"/>
<rect x="981.47" y="111.90" width="2.60" height="9.00" fill="#cd1076"/>
<rect x="986.78" y="119.70" width="2.60" height="1.20" fill="#9a1f62" opacity="0.79"/>
<rect x="992.09" y="110.30" width="2.60" height="10.60" fill="#cd1076"/>
<rect x="997.41" y="119.70" width="2.60" height="1.20" fill="#f6a37c"/>
<rect x="1002.72" y="119.30" width="2.60" height="1.60" fill="#f6a37c"/>
<rect x="1008.03" y="119.70" width="2.60" height="1.20" fill="#f6a37c"/>
<rect x="1013.35" y="119.30" width="2.60" height="1.60" fill="#f6a37c"/>
<rect x="1018.66" y="119.70" width="2.60" height="1.20" fill="#f6a37c"/>
<rect x="1023.97" y="119.30" width="2.60" height="1.60" fill="#f6a37c"/>
<rect x="1029.29" y="117.30" width="2.60" height="3.60" fill="#f6a37c"/>
<rect x="1034.60" y="116.90" width="2.60" height="4.00" fill="#f6a37c"/>
<rect x="1039.92" y="119.70" width="2.60" height="1.20" fill="#f6a37c"/>
<rect x="1045.23" y="119.30" width="2.60" height="1.60" fill="#f6a37c"/>
<rect x="1050.54" y="119.70" width="2.60" height="1.20" fill="#f6a37c"/>
<rect x="1055.86" y="119.30" width="2.60" height="1.60" fill="#f6a37c"/>
<rect x="1061.17" y="119.70" width="2.60" height="1.20" fill="#f6a37c"/>
<rect x="1066.48" y="119.70" width="2.60" height="1.20" fill="#f6a37c"/>
<rect x="1071.80" y="119.70" width="2.60" height="1.20" fill="#b57f66" opacity="0.62"/>
<rect x="1077.11" y="119.30" width="2.60" height="1.60" fill="#f6a37c"/>
<rect x="1082.42" y="118.90" width="2.60" height="2.00" fill="#238b23"/>
<rect x="1087.74" y="119.30" width="2.60" height="1.60" fill="#238b23"/>
<rect x="1093.05" y="119.30" width="2.60" height="1.60" fill="#238b23"/>
<rect x="1098.36" y="119.70" width="2.60" height="1.20" fill="#238b23"/>
<rect x="1103.68" y="119.70" width="2.60" height="1.20" fill="#2c6f2c" opacity="0.62"/>
<rect x="1108.99" y="119.30" width="2.60" height="1.60" fill="#238b23"/>
<rect x="1114.30" y="118.90" width="2.60" height="2.00" fill="#238b23"/>
<rect x="1119.62" y="115.30" width="2.60" height="5.60" fill="#238b23"/>
<rect x="1124.93" y="118.90" width="2.60" height="2.00" fill="#238b23"/>
<rect x="1130.25" y="118.90" width="2.60" height="2.00" fill="#238b23"/>
<rect x="1135.56" y="118.50" width="2.60" height="2.40" fill="#238b23"/>
<rect x="1140.87" y="118.90" width="2.60" height="2.00" fill="#238b23"/>
<rect x="1146.19" y="118.90" width="2.60" height="2.00" fill="#238b23"/>
<rect x="1151.50" y="117.70" width="2.60" height="3.20" fill="#238b23"/>
<rect x="1156.81" y="119.70" width="2.60" height="1.20" fill="#2c6f2c" opacity="0.62"/>
<rect x="1162.13" y="118.90" width="2.60" height="2.00" fill="#238b23"/>
<rect x="1167.44" y="119.70" width="2.60" height="1.20" fill="#6595ec"/>
<rect x="1172.75" y="119.70" width="2.60" height="1.20" fill="#6595ec"/>
<rect x="1178.07" y="119.70" width="2.60" height="1.20" fill="#6595ec"/>
<rect x="1188.69" y="119.70" width="2.60" height="1.20" fill="#5776ae" opacity="0.90"/>
<rect x="1194.01" y="119.70" width="2.60" height="1.20" fill="#5776ae" opacity="0.90"/>
<rect x="1199.32" y="119.70" width="2.60" height="1.20" fill="#6595ec"/>
<rect x="1204.63" y="115.90" width="2.60" height="5.00" fill="#6595ec"/>
<rect x="1209.95" y="119.70" width="2.60" height="1.20" fill="#6595ec"/>
<rect x="1220.58" y="119.70" width="2.60" height="1.20" fill="#5776ae" opacity="0.90"/>
<rect x="1231.20" y="119.70" width="2.60" height="1.20" fill="#5776ae" opacity="0.90"/>
<rect x="1236.52" y="119.70" width="2.60" height="1.20" fill="#5776ae" opacity="0.90"/>
<rect x="1241.83" y="119.70" width="2.60" height="1.20" fill="#5776ae" opacity="0.90"/>
<rect x="1247.14" y="119.30" width="2.60" height="1.60" fill="#6595ec"/>
<text x="788.71" y="42.40" font-size="17.0" fill="#000" stroke="#000" textLength="356.78" lengthAdjust="spacingAndGlyphs">Signature_3 like; cosine−similarity: 0.792</text>
<text x="779.79" y="61.60" font-size="17.0" fill="#000" stroke="#000" textLength="379.62" lengthAdjust="spacingAndGlyphs">Etiology: defects in DNA−DSB repair by HR</text>
<line x1="734.50" y1="182.10" x2="734.50" y2="272.50" stroke="#000" stroke-width="2.4"/>
<line x1="729.30" y1="271.40" x2="734.50" y2="271.40" stroke="#000" stroke-width="2.4"/>
<line x1="729.30" y1="242.00" x2="734.50" y2="242.00" stroke="#000" stroke-width="2.4"/>
<line x1="729.30" y1="212.60" x2="734.50" y2="212.60" stroke="#000" stroke-width="2.4"/>
<line x1="729.30" y1="183.20" x2="734.50" y2="183.20" stroke="#000" stroke-width="2.4"/>
<text x="706.07" y="276.60" font-size="16.8" fill="#000" stroke="#000" textLength="10.35" lengthAdjust="spacingAndGlyphs">0</text>
<text x="695.73" y="247.20" font-size="16.8" fill="#000" stroke="#000" textLength="24.02" lengthAdjust="spacingAndGlyphs">0.1</text>
<text x="695.65" y="217.80" font-size="16.8" fill="#000" stroke="#000" textLength="26.61" lengthAdjust="spacingAndGlyphs">0.2</text>
<text x="695.66" y="188.40" font-size="16.8" fill="#000" stroke="#000" textLength="26.48" lengthAdjust="spacingAndGlyphs">0.3</text>
<text transform="translate(686.70,262.42) rotate(-90)" x="0" y="0" font-size="21.3" fill="#000" stroke="#000" textLength="75.57" lengthAdjust="spacingAndGlyphs">Fraction</text>
<rect x="739.90" y="277.30" width="85.02" height="8.30" fill="#8b3a2e"/>
<rect x="824.92" y="277.30" width="85.02" height="8.30" fill="#828b8b"/>
<rect x="909.93" y="277.30" width="85.02" height="8.30" fill="#cd1076"/>
<rect x="994.95" y="277.30" width="85.02" height="8.30" fill="#f6a37c"/>
<rect x="1079.97" y="277.30" width="85.02" height="8.30" fill="#238b23"/>
<rect x="1164.98" y="277.30" width="85.02" height="8.30" fill="#6595ec"/>
<line x1="824.92" y1="277.30" x2="824.92" y2="285.60" stroke="#ffffff" stroke-width="0.9" opacity="0.8"/>
<line x1="909.93" y1="277.30" x2="909.93" y2="285.60" stroke="#ffffff" stroke-width="0.9" opacity="0.8"/>
<line x1="994.95" y1="277.30" x2="994.95" y2="285.60" stroke="#ffffff" stroke-width="0.9" opacity="0.8"/>
<line x1="1079.97" y1="277.30" x2="1079.97" y2="285.60" stroke="#ffffff" stroke-width="0.9" opacity="0.8"/>
<line x1="1164.98" y1="277.30" x2="1164.98" y2="285.60" stroke="#ffffff" stroke-width="0.9" opacity="0.8"/>
<rect x="739.90" y="277.30" width="510.10" height="8.30" fill="none" stroke="#000" stroke-opacity="0.25" stroke-width="0.8"/>
<rect x="742.36" y="269.40" width="2.60" height="2.00" fill="#8b3a2e"/>
<rect x="747.67" y="269.40" width="2.60" height="2.00" fill="#8b3a2e"/>
<rect x="752.98" y="269.40" width="2.60" height="2.00" fill="#8b3a2e"/>
<rect x="758.30" y="269.40" width="2.60" height="2.00" fill="#8b3a2e"/>
<rect x="763.61" y="269.40" width="2.60" height="2.00" fill="#8b3a2e"/>
<rect x="774.24" y="270.20" width="2.60" height="1.20" fill="#6f3b33" opacity="0.57"/>
<rect x="779.55" y="269.40" width="2.60" height="2.00" fill="#8b3a2e"/>
<rect x="784.87" y="267.80" width="2.60" height="3.60" fill="#8b3a2e"/>
<rect x="790.18" y="267.80" width="2.60" height="3.60" fill="#8b3a2e"/>
<rect x="795.49" y="269.40" width="2.60" height="2.00" fill="#8b3a2e"/>
<rect x="800.81" y="269.00" width="2.60" height="2.40" fill="#8b3a2e"/>
<rect x="806.12" y="268.40" width="2.60" height="3.00" fill="#8b3a2e"/>
<rect x="811.43" y="268.20" width="2.60" height="3.20" fill="#8b3a2e"/>
<rect x="816.75" y="269.80" width="2.60" height="1.60" fill="#8b3a2e"/>
<rect x="822.06" y="267.40" width="2.60" height="4.00" fill="#8b3a2e"/>
<rect x="827.37" y="270.20" width="2.60" height="1.20" fill="#6a6f6f" opacity="0.57"/>
<rect x="832.69" y="270.20" width="2.60" height="1.20" fill="#6a6f6f" opacity="0.57"/>
<rect x="838.00" y="270.20" width="2.60" height="1.20" fill="#6a6f6f" opacity="0.57"/>
<rect x="843.31" y="270.20" width="2.60" height="1.20" fill="#6a6f6f" opacity="0.57"/>
<rect x="848.63" y="270.20" width="2.60" height="1.20" fill="#6a6f6f" opacity="0.57"/>
<rect x="853.94" y="270.20" width="2.60" height="1.20" fill="#6a6f6f" opacity="0.57"/>
<rect x="859.25" y="270.20" width="2.60" height="1.20" fill="#6a6f6f" opacity="0.57"/>
<rect x="864.57" y="270.20" width="2.60" height="1.20" fill="#6a6f6f" opacity="0.90"/>
<rect x="869.88" y="270.20" width="2.60" height="1.20" fill="#6a6f6f" opacity="0.90"/>
<rect x="875.20" y="270.20" width="2.60" height="1.20" fill="#6a6f6f" opacity="0.57"/>
<rect x="880.51" y="270.20" width="2.60" height="1.20" fill="#6a6f6f" opacity="0.57"/>
<rect x="885.82" y="270.20" width="2.60" height="1.20" fill="#6a6f6f" opacity="0.57"/>
<rect x="891.14" y="270.20" width="2.60" height="1.20" fill="#828b8b"/>
<rect x="896.45" y="269.80" width="2.60" height="1.60" fill="#828b8b"/>
<rect x="901.76" y="270.20" width="2.60" height="1.20" fill="#6a6f6f" opacity="0.79"/>
<rect x="907.08" y="269.80" width="2.60" height="1.60" fill="#828b8b"/>
<rect x="912.39" y="269.40" width="2.60" height="2.00" fill="#cd1076"/>
<rect x="917.70" y="269.00" width="2.60" height="2.40" fill="#cd1076"/>
<rect x="923.02" y="264.80" width="2.60" height="6.60" fill="#cd1076"/>
<rect x="933.64" y="269.00" width="2.60" height="2.40" fill="#cd1076"/>
<rect x="938.96" y="269.00" width="2.60" height="2.40" fill="#cd1076"/>
<rect x="944.27" y="260.20" width="2.60" height="11.20" fill="#cd1076"/>
<rect x="954.90" y="269.00" width="2.60" height="2.40" fill="#cd1076"/>
<rect x="965.53" y="262.80" width="2.60" height="8.60" fill="#cd1076"/>
<rect x="970.84" y="270.20" width="2.60" height="1.20" fill="#9a1f62" opacity="0.62"/>
<rect x="976.15" y="269.40" width="2.60" height="2.00" fill="#cd1076"/>
<rect x="981.47" y="270.20" width="2.60" height="1.20" fill="#9a1f62" opacity="0.79"/>
<rect x="986.78" y="266.40" width="2.60" height="5.00" fill="#cd1076"/>
<rect x="992.09" y="269.00" width="2.60" height="2.40" fill="#cd1076"/>
<rect x="997.41" y="270.20" width="2.60" height="1.20" fill="#b57f66" opacity="0.62"/>
<rect x="1002.72" y="270.20" width="2.60" height="1.20" fill="#b57f66" opacity="0.62"/>
<rect x="1008.03" y="270.20" width="2.60" height="1.20" fill="#b57f66" opacity="0.62"/>
<rect x="1013.35" y="270.20" width="2.60" height="1.20" fill="#b57f66" opacity="0.62"/>
<rect x="1023.97" y="267.80" width="2.60" height="3.60" fill="#f6a37c"/>
<rect x="1029.29" y="270.20" width="2.60" height="1.20" fill="#b57f66" opacity="0.90"/>
<rect x="1034.60" y="262.20" width="2.60" height="9.20" fill="#f6a37c"/>
<rect x="1039.92" y="270.20" width="2.60" height="1.20" fill="#b57f66" opacity="0.62"/>
<rect x="1045.23" y="270.20" width="2.60" height="1.20" fill="#b57f66" opacity="0.62"/>
<rect x="1050.54" y="270.20" width="2.60" height="1.20" fill="#b57f66" opacity="0.62"/>
<rect x="1055.86" y="270.20" width="2.60" height="1.20" fill="#b57f66" opacity="0.62"/>
<rect x="1066.48" y="270.20" width="2.60" height="1.20" fill="#b57f66" opacity="0.62"/>
<rect x="1071.80" y="270.20" width="2.60" height="1.20" fill="#b57f66" opacity="0.62"/>
<rect x="1077.11" y="270.20" width="2.60" height="1.20" fill="#b57f66" opacity="0.79"/>
<rect x="1082.42" y="270.20" width="2.60" height="1.20" fill="#2c6f2c" opacity="0.90"/>
<rect x="1087.74" y="270.20" width="2.60" height="1.20" fill="#2c6f2c" opacity="0.90"/>
<rect x="1093.05" y="270.20" width="2.60" height="1.20" fill="#2c6f2c" opacity="0.90"/>
<rect x="1103.68" y="269.00" width="2.60" height="2.40" fill="#238b23"/>
<rect x="1108.99" y="259.80" width="2.60" height="11.60" fill="#238b23"/>
<rect x="1114.30" y="264.40" width="2.60" height="7.00" fill="#238b23"/>
<rect x="1119.62" y="243.20" width="2.60" height="28.20" fill="#238b23"/>
<rect x="1124.93" y="270.20" width="2.60" height="1.20" fill="#2c6f2c" opacity="0.62"/>
<rect x="1130.25" y="267.00" width="2.60" height="4.40" fill="#238b23"/>
<rect x="1135.56" y="270.20" width="2.60" height="1.20" fill="#2c6f2c" opacity="0.57"/>
<rect x="1140.87" y="269.40" width="2.60" height="2.00" fill="#238b23"/>
<rect x="1146.19" y="270.20" width="2.60" height="1.20" fill="#2c6f2c" opacity="0.62"/>
<rect x="1151.50" y="269.40" width="2.60" height="2.00" fill="#238b23"/>
<rect x="1156.81" y="269.40" width="2.60" height="2.00" fill="#238b23"/>
<rect x="1162.13" y="269.80" width="2.60" height="1.60" fill="#238b23"/>
<rect x="1167.44" y="270.20" width="2.60" height="1.20" fill="#5776ae" opacity="0.57"/>
<rect x="1172.75" y="270.20" width="2.60" height="1.20" fill="#5776ae" opacity="0.79"/>
<rect x="1183.38" y="263.80" width="2.60" height="7.60" fill="#6595ec"/>
<rect x="1188.69" y="270.20" width="2.60" height="1.20" fill="#5776ae" opacity="0.62"/>
<rect x="1194.01" y="266.20" width="2.60" height="5.20" fill="#6595ec"/>
<rect x="1199.32" y="269.40" width="2.60" height="2.00" fill="#6595ec"/>
<rect x="1204.63" y="198.80" width="2.60" height="72.60" fill="#6595ec"/>
<rect x="1209.95" y="270.20" width="2.60" height="1.20" fill="#5776ae" opacity="0.62"/>
<rect x="1215.26" y="269.40" width="2.60" height="2.00" fill="#6595ec"/>
<rect x="1220.58" y="270.20" width="2.60" height="1.20" fill="#6595ec"/>
<rect x="1225.89" y="254.80" width="2.60" height="16.60" fill="#6595ec"/>
<rect x="1231.20" y="270.20" width="2.60" height="1.20" fill="#5776ae" opacity="0.62"/>
<rect x="1236.52" y="269.40" width="2.60" height="2.00" fill="#6595ec"/>
<rect x="1241.83" y="270.20" width="2.60" height="1.20" fill="#5776ae" opacity="0.90"/>
<rect x="1247.14" y="262.80" width="2.60" height="8.60" fill="#6595ec"/>
<text x="776.71" y="193.30" font-size="17.0" fill="#000" stroke="#000" textLength="367.22" lengthAdjust="spacingAndGlyphs">Signature_17 like; cosine−similarity: 0.979</text>
<text x="870.09" y="212.10" font-size="17.0" fill="#000" stroke="#000" textLength="162.18" lengthAdjust="spacingAndGlyphs">Etiology: Unknown</text>
<line x1="734.50" y1="333.00" x2="734.50" y2="423.40" stroke="#000" stroke-width="2.4"/>
<line x1="729.30" y1="422.30" x2="734.50" y2="422.30" stroke="#000" stroke-width="2.4"/>
<line x1="729.30" y1="392.90" x2="734.50" y2="392.90" stroke="#000" stroke-width="2.4"/>
<line x1="729.30" y1="363.50" x2="734.50" y2="363.50" stroke="#000" stroke-width="2.4"/>
<line x1="729.30" y1="334.10" x2="734.50" y2="334.10" stroke="#000" stroke-width="2.4"/>
<text x="705.77" y="427.50" font-size="16.8" fill="#000" stroke="#000" textLength="10.35" lengthAdjust="spacingAndGlyphs">0</text>
<text x="695.93" y="398.10" font-size="16.8" fill="#000" stroke="#000" textLength="24.02" lengthAdjust="spacingAndGlyphs">0.1</text>
<text x="695.85" y="368.70" font-size="16.8" fill="#000" stroke="#000" textLength="26.61" lengthAdjust="spacingAndGlyphs">0.2</text>
<text x="695.86" y="339.30" font-size="16.8" fill="#000" stroke="#000" textLength="26.48" lengthAdjust="spacingAndGlyphs">0.3</text>
<text transform="translate(687.70,412.20) rotate(-90)" x="0" y="0" font-size="21.3" fill="#000" stroke="#000" textLength="74.74" lengthAdjust="spacingAndGlyphs">Fraction</text>
<rect x="739.90" y="428.20" width="85.02" height="8.30" fill="#8b3a2e"/>
<rect x="824.92" y="428.20" width="85.02" height="8.30" fill="#828b8b"/>
<rect x="909.93" y="428.20" width="85.02" height="8.30" fill="#cd1076"/>
<rect x="994.95" y="428.20" width="85.02" height="8.30" fill="#f6a37c"/>
<rect x="1079.97" y="428.20" width="85.02" height="8.30" fill="#238b23"/>
<rect x="1164.98" y="428.20" width="85.02" height="8.30" fill="#6595ec"/>
<line x1="824.92" y1="428.20" x2="824.92" y2="436.50" stroke="#ffffff" stroke-width="0.9" opacity="0.8"/>
<line x1="909.93" y1="428.20" x2="909.93" y2="436.50" stroke="#ffffff" stroke-width="0.9" opacity="0.8"/>
<line x1="994.95" y1="428.20" x2="994.95" y2="436.50" stroke="#ffffff" stroke-width="0.9" opacity="0.8"/>
<line x1="1079.97" y1="428.20" x2="1079.97" y2="436.50" stroke="#ffffff" stroke-width="0.9" opacity="0.8"/>
<line x1="1164.98" y1="428.20" x2="1164.98" y2="436.50" stroke="#ffffff" stroke-width="0.9" opacity="0.8"/>
<rect x="739.90" y="428.20" width="510.10" height="8.30" fill="none" stroke="#000" stroke-opacity="0.25" stroke-width="0.8"/>
<rect x="742.36" y="421.10" width="2.60" height="1.20" fill="#6f3b33" opacity="0.79"/>
<rect x="758.30" y="421.10" width="2.60" height="1.20" fill="#6f3b33" opacity="0.90"/>
<rect x="763.61" y="418.10" width="2.60" height="4.20" fill="#8b3a2e"/>
<rect x="768.92" y="417.10" width="2.60" height="5.20" fill="#8b3a2e"/>
<rect x="774.24" y="418.50" width="2.60" height="3.80" fill="#8b3a2e"/>
<rect x="779.55" y="408.10" width="2.60" height="14.20" fill="#8b3a2e"/>
<rect x="784.87" y="421.10" width="2.60" height="1.20" fill="#6f3b33" opacity="0.90"/>
<rect x="790.18" y="419.90" width="2.60" height="2.40" fill="#8b3a2e"/>
<rect x="795.49" y="420.70" width="2.60" height="1.60" fill="#8b3a2e"/>
<rect x="800.81" y="418.50" width="2.60" height="3.80" fill="#8b3a2e"/>
<rect x="806.12" y="420.70" width="2.60" height="1.60" fill="#8b3a2e"/>
<rect x="811.43" y="420.70" width="2.60" height="1.60" fill="#8b3a2e"/>
<rect x="816.75" y="421.10" width="2.60" height="1.20" fill="#6f3b33" opacity="0.57"/>
<rect x="822.06" y="420.30" width="2.60" height="2.00" fill="#8b3a2e"/>
<rect x="832.69" y="421.10" width="2.60" height="1.20" fill="#6a6f6f" opacity="0.57"/>
<rect x="843.31" y="421.10" width="2.60" height="1.20" fill="#6a6f6f" opacity="0.57"/>
<rect x="853.94" y="421.10" width="2.60" height="1.20" fill="#6a6f6f" opacity="0.57"/>
<rect x="859.25" y="421.10" width="2.60" height="1.20" fill="#6a6f6f" opacity="0.57"/>
<rect x="875.20" y="421.10" width="2.60" height="1.20" fill="#6a6f6f" opacity="0.90"/>
<rect x="880.51" y="421.10" width="2.60" height="1.20" fill="#6a6f6f" opacity="0.57"/>
<rect x="912.39" y="419.30" width="2.60" height="3.00" fill="#cd1076"/>
<rect x="917.70" y="418.70" width="2.60" height="3.60" fill="#cd1076"/>
<rect x="923.02" y="387.10" width="2.60" height="35.20" fill="#cd1076"/>
<rect x="928.33" y="421.10" width="2.60" height="1.20" fill="#9a1f62" opacity="0.90"/>
<rect x="933.64" y="421.10" width="2.60" height="1.20" fill="#9a1f62" opacity="0.90"/>
<rect x="938.96" y="419.90" width="2.60" height="2.40" fill="#cd1076"/>
<rect x="944.27" y="385.50" width="2.60" height="36.80" fill="#cd1076"/>
<rect x="949.58" y="421.10" width="2.60" height="1.20" fill="#9a1f62" opacity="0.90"/>
<rect x="954.90" y="413.10" width="2.60" height="9.20" fill="#cd1076"/>
<rect x="960.21" y="405.50" width="2.60" height="16.80" fill="#cd1076"/>
<rect x="965.53" y="371.10" width="2.60" height="51.20" fill="#cd1076"/>
<rect x="970.84" y="413.70" width="2.60" height="8.60" fill="#cd1076"/>
<rect x="976.15" y="421.10" width="2.60" height="1.20" fill="#9a1f62" opacity="0.62"/>
<rect x="981.47" y="421.10" width="2.60" height="1.20" fill="#9a1f62" opacity="0.62"/>
<rect x="986.78" y="402.70" width="2.60" height="19.60" fill="#cd1076"/>
<rect x="992.09" y="421.10" width="2.60" height="1.20" fill="#9a1f62" opacity="0.62"/>
<rect x="997.41" y="421.10" width="2.60" height="1.20" fill="#b57f66" opacity="0.62"/>
<rect x="1002.72" y="421.10" width="2.60" height="1.20" fill="#b57f66" opacity="0.62"/>
<rect x="1008.03" y="421.10" width="2.60" height="1.20" fill="#b57f66" opacity="0.62"/>
<rect x="1013.35" y="421.10" width="2.60" height="1.20" fill="#b57f66" opacity="0.52"/>
<rect x="1018.66" y="421.10" width="2.60" height="1.20" fill="#b57f66" opacity="0.52"/>
<rect x="1023.97" y="421.10" width="2.60" height="1.20" fill="#b57f66" opacity="0.52"/>
<rect x="1029.29" y="421.10" width="2.60" height="1.20" fill="#b57f66" opacity="0.62"/>
<rect x="1034.60" y="421.10" width="2.60" height="1.20" fill="#b57f66" opacity="0.52"/>
<rect x="1039.92" y="421.10" width="2.60" height="1.20" fill="#b57f66" opacity="0.52"/>
<rect x="1045.23" y="421.10" width="2.60" height="1.20" fill="#b57f66" opacity="0.52"/>
<rect x="1050.54" y="421.10" width="2.60" height="1.20" fill="#b57f66" opacity="0.52"/>
<rect x="1055.86" y="421.10" width="2.60" height="1.20" fill="#b57f66" opacity="0.52"/>
<rect x="1061.17" y="421.10" width="2.60" height="1.20" fill="#b57f66" opacity="0.52"/>
<rect x="1066.48" y="421.10" width="2.60" height="1.20" fill="#b57f66" opacity="0.52"/>
<rect x="1071.80" y="421.10" width="2.60" height="1.20" fill="#b57f66" opacity="0.52"/>
<rect x="1077.11" y="421.10" width="2.60" height="1.20" fill="#b57f66" opacity="0.52"/>
<rect x="1082.42" y="421.10" width="2.60" height="1.20" fill="#2c6f2c" opacity="0.90"/>
<rect x="1087.74" y="421.10" width="2.60" height="1.20" fill="#238b23"/>
<rect x="1093.05" y="419.90" width="2.60" height="2.40" fill="#238b23"/>
<rect x="1098.36" y="421.10" width="2.60" height="1.20" fill="#2c6f2c" opacity="0.79"/>
<rect x="1103.68" y="420.70" width="2.60" height="1.60" fill="#238b23"/>
<rect x="1108.99" y="421.10" width="2.60" height="1.20" fill="#2c6f2c" opacity="0.79"/>
<rect x="1114.30" y="418.70" width="2.60" height="3.60" fill="#238b23"/>
<rect x="1119.62" y="421.10" width="2.60" height="1.20" fill="#238b23"/>
<rect x="1124.93" y="420.30" width="2.60" height="2.00" fill="#238b23"/>
<rect x="1130.25" y="420.30" width="2.60" height="2.00" fill="#238b23"/>
<rect x="1135.56" y="420.30" width="2.60" height="2.00" fill="#238b23"/>
<rect x="1140.87" y="420.30" width="2.60" height="2.00" fill="#238b23"/>
<rect x="1146.19" y="421.10" width="2.60" height="1.20" fill="#238b23"/>
<rect x="1151.50" y="420.70" width="2.60" height="1.60" fill="#238b23"/>
<rect x="1156.81" y="420.30" width="2.60" height="2.00" fill="#238b23"/>
<rect x="1162.13" y="421.10" width="2.60" height="1.20" fill="#2c6f2c" opacity="0.62"/>
<rect x="1167.44" y="421.10" width="2.60" height="1.20" fill="#5776ae" opacity="0.52"/>
<rect x="1172.75" y="421.10" width="2.60" height="1.20" fill="#5776ae" opacity="0.52"/>
<rect x="1178.07" y="421.10" width="2.60" height="1.20" fill="#5776ae" opacity="0.52"/>
<rect x="1183.38" y="421.10" width="2.60" height="1.20" fill="#5776ae" opacity="0.52"/>
<rect x="1188.69" y="421.10" width="2.60" height="1.20" fill="#5776ae" opacity="0.52"/>
<rect x="1194.01" y="421.10" width="2.60" height="1.20" fill="#5776ae" opacity="0.62"/>
<rect x="1199.32" y="421.10" width="2.60" height="1.20" fill="#5776ae" opacity="0.62"/>
<rect x="1204.63" y="421.10" width="2.60" height="1.20" fill="#5776ae" opacity="0.52"/>
<rect x="1209.95" y="421.10" width="2.60" height="1.20" fill="#5776ae" opacity="0.52"/>
<rect x="1215.26" y="421.10" width="2.60" height="1.20" fill="#5776ae" opacity="0.52"/>
<rect x="1220.58" y="421.10" width="2.60" height="1.20" fill="#5776ae" opacity="0.52"/>
<rect x="1225.89" y="421.10" width="2.60" height="1.20" fill="#5776ae" opacity="0.52"/>
<rect x="1231.20" y="421.10" width="2.60" height="1.20" fill="#5776ae" opacity="0.52"/>
<rect x="1236.52" y="421.10" width="2.60" height="1.20" fill="#5776ae" opacity="0.52"/>
<rect x="1241.83" y="421.10" width="2.60" height="1.20" fill="#5776ae" opacity="0.52"/>
<rect x="1247.14" y="421.10" width="2.60" height="1.20" fill="#5776ae" opacity="0.52"/>
<text x="790.10" y="337.60" font-size="17.0" fill="#000" stroke="#000" textLength="357.89" lengthAdjust="spacingAndGlyphs">Signature_6 like; cosine−similarity: 0.952</text>
<text x="791.39" y="356.70" font-size="17.0" fill="#000" stroke="#000" textLength="350.93" lengthAdjust="spacingAndGlyphs">Etiology: defective DNA mismatch repair</text>
<line x1="734.50" y1="483.80" x2="734.50" y2="574.20" stroke="#000" stroke-width="2.4"/>
<line x1="729.30" y1="573.10" x2="734.50" y2="573.10" stroke="#000" stroke-width="2.4"/>
<line x1="729.30" y1="543.70" x2="734.50" y2="543.70" stroke="#000" stroke-width="2.4"/>
<line x1="729.30" y1="514.30" x2="734.50" y2="514.30" stroke="#000" stroke-width="2.4"/>
<line x1="729.30" y1="484.90" x2="734.50" y2="484.90" stroke="#000" stroke-width="2.4"/>
<text x="705.77" y="578.30" font-size="16.8" fill="#000" stroke="#000" textLength="10.35" lengthAdjust="spacingAndGlyphs">0</text>
<text x="695.93" y="548.90" font-size="16.8" fill="#000" stroke="#000" textLength="24.02" lengthAdjust="spacingAndGlyphs">0.1</text>
<text x="695.85" y="519.50" font-size="16.8" fill="#000" stroke="#000" textLength="26.61" lengthAdjust="spacingAndGlyphs">0.2</text>
<text x="695.86" y="490.10" font-size="16.8" fill="#000" stroke="#000" textLength="26.48" lengthAdjust="spacingAndGlyphs">0.3</text>
<text transform="translate(688.70,561.59) rotate(-90)" x="0" y="0" font-size="21.3" fill="#000" stroke="#000" textLength="74.64" lengthAdjust="spacingAndGlyphs">Fraction</text>
<rect x="739.90" y="579.00" width="85.02" height="8.30" fill="#8b3a2e"/>
<rect x="824.92" y="579.00" width="85.02" height="8.30" fill="#828b8b"/>
<rect x="909.93" y="579.00" width="85.02" height="8.30" fill="#cd1076"/>
<rect x="994.95" y="579.00" width="85.02" height="8.30" fill="#f6a37c"/>
<rect x="1079.97" y="579.00" width="85.02" height="8.30" fill="#238b23"/>
<rect x="1164.98" y="579.00" width="85.02" height="8.30" fill="#6595ec"/>
<line x1="824.92" y1="579.00" x2="824.92" y2="587.30" stroke="#ffffff" stroke-width="0.9" opacity="0.8"/>
<line x1="909.93" y1="579.00" x2="909.93" y2="587.30" stroke="#ffffff" stroke-width="0.9" opacity="0.8"/>
<line x1="994.95" y1="579.00" x2="994.95" y2="587.30" stroke="#ffffff" stroke-width="0.9" opacity="0.8"/>
<line x1="1079.97" y1="579.00" x2="1079.97" y2="587.30" stroke="#ffffff" stroke-width="0.9" opacity="0.8"/>
<line x1="1164.98" y1="579.00" x2="1164.98" y2="587.30" stroke="#ffffff" stroke-width="0.9" opacity="0.8"/>
<rect x="739.90" y="579.00" width="510.10" height="8.30" fill="none" stroke="#000" stroke-opacity="0.25" stroke-width="0.8"/>
<rect x="742.36" y="561.10" width="2.60" height="12.00" fill="#8b3a2e"/>
<rect x="747.67" y="564.10" width="2.60" height="9.00" fill="#8b3a2e"/>
<rect x="752.98" y="567.10" width="2.60" height="6.00" fill="#8b3a2e"/>
<rect x="758.30" y="565.10" width="2.60" height="8.00" fill="#8b3a2e"/>
<rect x="763.61" y="552.70" width="2.60" height="20.40" fill="#8b3a2e"/>
<rect x="768.92" y="560.30" width="2.60" height="12.80" fill="#8b3a2e"/>
<rect x="774.24" y="558.70" width="2.60" height="14.40" fill="#8b3a2e"/>
<rect x="779.55" y="554.70" width="2.60" height="18.40" fill="#8b3a2e"/>
<rect x="784.87" y="560.30" width="2.60" height="12.80" fill="#8b3a2e"/>
<rect x="790.18" y="560.70" width="2.60" height="12.40" fill="#8b3a2e"/>
<rect x="795.49" y="563.70" width="2.60" height="9.40" fill="#8b3a2e"/>
<rect x="800.81" y="558.10" width="2.60" height="15.00" fill="#8b3a2e"/>
<rect x="806.12" y="553.70" width="2.60" height="19.40" fill="#8b3a2e"/>
<rect x="811.43" y="557.10" width="2.60" height="16.00" fill="#8b3a2e"/>
<rect x="816.75" y="564.70" width="2.60" height="8.40" fill="#8b3a2e"/>
<rect x="822.06" y="548.70" width="2.60" height="24.40" fill="#8b3a2e"/>
<rect x="827.37" y="571.90" width="2.60" height="1.20" fill="#6a6f6f" opacity="0.68"/>
<rect x="832.69" y="571.90" width="2.60" height="1.20" fill="#6a6f6f" opacity="0.68"/>
<rect x="838.00" y="571.90" width="2.60" height="1.20" fill="#6a6f6f" opacity="0.68"/>
<rect x="843.31" y="571.90" width="2.60" height="1.20" fill="#6a6f6f" opacity="0.68"/>
<rect x="848.63" y="571.90" width="2.60" height="1.20" fill="#6a6f6f" opacity="0.68"/>
<rect x="853.94" y="571.90" width="2.60" height="1.20" fill="#6a6f6f" opacity="0.68"/>
<rect x="859.25" y="571.90" width="2.60" height="1.20" fill="#6a6f6f" opacity="0.68"/>
<rect x="864.57" y="571.90" width="2.60" height="1.20" fill="#6a6f6f" opacity="0.68"/>
<rect x="869.88" y="571.90" width="2.60" height="1.20" fill="#6a6f6f" opacity="0.68"/>
<rect x="880.51" y="571.90" width="2.60" height="1.20" fill="#6a6f6f" opacity="0.68"/>
<rect x="885.82" y="571.90" width="2.60" height="1.20" fill="#6a6f6f" opacity="0.68"/>
<rect x="891.14" y="571.90" width="2.60" height="1.20" fill="#6a6f6f" opacity="0.68"/>
<rect x="896.45" y="571.90" width="2.60" height="1.20" fill="#6a6f6f" opacity="0.68"/>
<rect x="901.76" y="571.90" width="2.60" height="1.20" fill="#6a6f6f" opacity="0.68"/>
<rect x="907.08" y="571.90" width="2.60" height="1.20" fill="#6a6f6f" opacity="0.68"/>
<rect x="912.39" y="571.90" width="2.60" height="1.20" fill="#9a1f62" opacity="0.79"/>
<rect x="917.70" y="571.90" width="2.60" height="1.20" fill="#cd1076"/>
<rect x="923.02" y="563.30" width="2.60" height="9.80" fill="#cd1076"/>
<rect x="928.33" y="571.90" width="2.60" height="1.20" fill="#9a1f62" opacity="0.79"/>
<rect x="933.64" y="571.90" width="2.60" height="1.20" fill="#9a1f62" opacity="0.79"/>
<rect x="938.96" y="571.90" width="2.60" height="1.20" fill="#cd1076"/>
<rect x="944.27" y="565.70" width="2.60" height="7.40" fill="#cd1076"/>
<rect x="949.58" y="571.90" width="2.60" height="1.20" fill="#cd1076"/>
<rect x="954.90" y="570.70" width="2.60" height="2.40" fill="#cd1076"/>
<rect x="960.21" y="567.10" width="2.60" height="6.00" fill="#cd1076"/>
<rect x="965.53" y="559.70" width="2.60" height="13.40" fill="#cd1076"/>
<rect x="970.84" y="567.70" width="2.60" height="5.40" fill="#cd1076"/>
<rect x="976.15" y="568.70" width="2.60" height="4.40" fill="#cd1076"/>
<rect x="981.47" y="571.50" width="2.60" height="1.60" fill="#cd1076"/>
<rect x="986.78" y="567.70" width="2.60" height="5.40" fill="#cd1076"/>
<rect x="992.09" y="571.10" width="2.60" height="2.00" fill="#cd1076"/>
<rect x="997.41" y="571.90" width="2.60" height="1.20" fill="#b57f66" opacity="0.52"/>
<rect x="1002.72" y="571.90" width="2.60" height="1.20" fill="#b57f66" opacity="0.52"/>
<rect x="1008.03" y="571.90" width="2.60" height="1.20" fill="#b57f66" opacity="0.52"/>
<rect x="1013.35" y="571.90" width="2.60" height="1.20" fill="#b57f66" opacity="0.62"/>
<rect x="1018.66" y="571.90" width="2.60" height="1.20" fill="#b57f66" opacity="0.62"/>
<rect x="1023.97" y="571.90" width="2.60" height="1.20" fill="#b57f66" opacity="0.52"/>
<rect x="1029.29" y="571.90" width="2.60" height="1.20" fill="#b57f66" opacity="0.62"/>
<rect x="1034.60" y="571.90" width="2.60" height="1.20" fill="#b57f66" opacity="0.62"/>
<rect x="1039.92" y="571.90" width="2.60" height="1.20" fill="#b57f66" opacity="0.52"/>
<rect x="1045.23" y="571.90" width="2.60" height="1.20" fill="#b57f66" opacity="0.52"/>
<rect x="1050.54" y="571.90" width="2.60" height="1.20" fill="#b57f66" opacity="0.62"/>
<rect x="1055.86" y="571.90" width="2.60" height="1.20" fill="#b57f66" opacity="0.62"/>
<rect x="1061.17" y="571.90" width="2.60" height="1.20" fill="#b57f66" opacity="0.52"/>
<rect x="1066.48" y="571.90" width="2.60" height="1.20" fill="#b57f66" opacity="0.52"/>
<rect x="1071.80" y="571.90" width="2.60" height="1.20" fill="#b57f66" opacity="0.62"/>
<rect x="1077.11" y="571.90" width="2.60" height="1.20" fill="#b57f66" opacity="0.52"/>
<rect x="1082.42" y="571.90" width="2.60" height="1.20" fill="#238b23"/>
<rect x="1087.74" y="571.90" width="2.60" height="1.20" fill="#2c6f2c" opacity="0.79"/>
<rect x="1093.05" y="571.90" width="2.60" height="1.20" fill="#2c6f2c" opacity="0.79"/>
<rect x="1098.36" y="571.90" width="2.60" height="1.20" fill="#2c6f2c" opacity="0.79"/>
<rect x="1103.68" y="571.90" width="2.60" height="1.20" fill="#2c6f2c" opacity="0.52"/>
<rect x="1108.99" y="571.90" width="2.60" height="1.20" fill="#2c6f2c" opacity="0.52"/>
<rect x="1114.30" y="571.50" width="2.60" height="1.60" fill="#238b23"/>
<rect x="1119.62" y="571.50" width="2.60" height="1.60" fill="#238b23"/>
<rect x="1124.93" y="571.90" width="2.60" height="1.20" fill="#2c6f2c" opacity="0.79"/>
<rect x="1130.25" y="571.90" width="2.60" height="1.20" fill="#2c6f2c" opacity="0.79"/>
<rect x="1135.56" y="571.90" width="2.60" height="1.20" fill="#2c6f2c" opacity="0.79"/>
<rect x="1140.87" y="571.90" width="2.60" height="1.20" fill="#2c6f2c" opacity="0.52"/>
<rect x="1146.19" y="571.90" width="2.60" height="1.20" fill="#2c6f2c" opacity="0.79"/>
<rect x="1151.50" y="571.90" width="2.60" height="1.20" fill="#2c6f2c" opacity="0.79"/>
<rect x="1156.81" y="571.90" width="2.60" height="1.20" fill="#2c6f2c" opacity="0.79"/>
<rect x="1162.13" y="571.90" width="2.60" height="1.20" fill="#2c6f2c" opacity="0.79"/>
<rect x="1167.44" y="571.90" width="2.60" height="1.20" fill="#5776ae" opacity="0.52"/>
<rect x="1172.75" y="571.90" width="2.60" height="1.20" fill="#5776ae" opacity="0.52"/>
<rect x="1178.07" y="571.90" width="2.60" height="1.20" fill="#5776ae" opacity="0.62"/>
<rect x="1183.38" y="571.90" width="2.60" height="1.20" fill="#5776ae" opacity="0.62"/>
<rect x="1188.69" y="571.90" width="2.60" height="1.20" fill="#5776ae" opacity="0.52"/>
<rect x="1194.01" y="571.90" width="2.60" height="1.20" fill="#5776ae" opacity="0.62"/>
<rect x="1199.32" y="571.90" width="2.60" height="1.20" fill="#5776ae" opacity="0.62"/>
<rect x="1204.63" y="571.90" width="2.60" height="1.20" fill="#5776ae" opacity="0.52"/>
<rect x="1209.95" y="571.90" width="2.60" height="1.20" fill="#5776ae" opacity="0.52"/>
<rect x="1215.26" y="571.90" width="2.60" height="1.20" fill="#5776ae" opacity="0.62"/>
<rect x="1220.58" y="571.90" width="2.60" height="1.20" fill="#5776ae" opacity="0.52"/>
<rect x="1225.89" y="571.90" width="2.60" height="1.20" fill="#5776ae" opacity="0.52"/>
<rect x="1231.20" y="571.90" width="2.60" height="1.20" fill="#5776ae" opacity="0.62"/>
<rect x="1236.52" y="571.90" width="2.60" height="1.20" fill="#5776ae" opacity="0.62"/>
<rect x="1241.83" y="571.90" width="2.60" height="1.20" fill="#5776ae" opacity="0.62"/>
<rect x="1247.14" y="571.90" width="2.60" height="1.20" fill="#5776ae" opacity="0.62"/>
<text x="788.81" y="490.20" font-size="17.0" fill="#000" stroke="#000" textLength="355.51" lengthAdjust="spacingAndGlyphs">Signature_29 like; cosine−similarity: 0.85</text>
<text x="748.69" y="508.50" font-size="17.0" fill="#000" stroke="#000" textLength="439.02" lengthAdjust="spacingAndGlyphs">Etiology: exposure to tobacco (chewing) mutagens</text>
<line x1="734.50" y1="634.70" x2="734.50" y2="725.10" stroke="#000" stroke-width="2.4"/>
<line x1="729.30" y1="724.00" x2="734.50" y2="724.00" stroke="#000" stroke-width="2.4"/>
<line x1="729.30" y1="694.60" x2="734.50" y2="694.60" stroke="#000" stroke-width="2.4"/>
<line x1="729.30" y1="665.20" x2="734.50" y2="665.20" stroke="#000" stroke-width="2.4"/>
<line x1="729.30" y1="635.80" x2="734.50" y2="635.80" stroke="#000" stroke-width="2.4"/>
<text x="707.17" y="729.20" font-size="16.8" fill="#000" stroke="#000" textLength="10.35" lengthAdjust="spacingAndGlyphs">0</text>
<text x="697.33" y="699.80" font-size="16.8" fill="#000" stroke="#000" textLength="24.02" lengthAdjust="spacingAndGlyphs">0.1</text>
<text x="697.25" y="670.40" font-size="16.8" fill="#000" stroke="#000" textLength="26.61" lengthAdjust="spacingAndGlyphs">0.2</text>
<text x="697.26" y="641.00" font-size="16.8" fill="#000" stroke="#000" textLength="26.48" lengthAdjust="spacingAndGlyphs">0.3</text>
<text transform="translate(688.50,714.11) rotate(-90)" x="0" y="0" font-size="21.3" fill="#000" stroke="#000" textLength="75.16" lengthAdjust="spacingAndGlyphs">Fraction</text>
<rect x="739.90" y="729.90" width="85.02" height="8.30" fill="#8b3a2e"/>
<rect x="824.92" y="729.90" width="85.02" height="8.30" fill="#828b8b"/>
<rect x="909.93" y="729.90" width="85.02" height="8.30" fill="#cd1076"/>
<rect x="994.95" y="729.90" width="85.02" height="8.30" fill="#f6a37c"/>
<rect x="1079.97" y="729.90" width="85.02" height="8.30" fill="#238b23"/>
<rect x="1164.98" y="729.90" width="85.02" height="8.30" fill="#6595ec"/>
<line x1="824.92" y1="729.90" x2="824.92" y2="738.20" stroke="#ffffff" stroke-width="0.9" opacity="0.8"/>
<line x1="909.93" y1="729.90" x2="909.93" y2="738.20" stroke="#ffffff" stroke-width="0.9" opacity="0.8"/>
<line x1="994.95" y1="729.90" x2="994.95" y2="738.20" stroke="#ffffff" stroke-width="0.9" opacity="0.8"/>
<line x1="1079.97" y1="729.90" x2="1079.97" y2="738.20" stroke="#ffffff" stroke-width="0.9" opacity="0.8"/>
<line x1="1164.98" y1="729.90" x2="1164.98" y2="738.20" stroke="#ffffff" stroke-width="0.9" opacity="0.8"/>
<rect x="739.90" y="729.90" width="510.10" height="8.30" fill="none" stroke="#000" stroke-opacity="0.25" stroke-width="0.8"/>
<rect x="742.36" y="722.80" width="2.60" height="1.20" fill="#6f3b33" opacity="0.90"/>
<rect x="747.67" y="722.00" width="2.60" height="2.00" fill="#8b3a2e"/>
<rect x="752.98" y="722.80" width="2.60" height="1.20" fill="#8b3a2e"/>
<rect x="758.30" y="722.80" width="2.60" height="1.20" fill="#8b3a2e"/>
<rect x="763.61" y="722.00" width="2.60" height="2.00" fill="#8b3a2e"/>
<rect x="768.92" y="722.80" width="2.60" height="1.20" fill="#6f3b33" opacity="0.79"/>
<rect x="774.24" y="722.80" width="2.60" height="1.20" fill="#6f3b33" opacity="0.68"/>
<rect x="784.87" y="715.40" width="2.60" height="8.60" fill="#8b3a2e"/>
<rect x="790.18" y="722.80" width="2.60" height="1.20" fill="#8b3a2e"/>
<rect x="795.49" y="721.00" width="2.60" height="3.00" fill="#8b3a2e"/>
<rect x="800.81" y="721.00" width="2.60" height="3.00" fill="#8b3a2e"/>
<rect x="806.12" y="722.80" width="2.60" height="1.20" fill="#8b3a2e"/>
<rect x="811.43" y="722.00" width="2.60" height="2.00" fill="#8b3a2e"/>
<rect x="816.75" y="718.40" width="2.60" height="5.60" fill="#8b3a2e"/>
<rect x="822.06" y="717.60" width="2.60" height="6.40" fill="#8b3a2e"/>
<rect x="827.37" y="722.80" width="2.60" height="1.20" fill="#6a6f6f" opacity="0.62"/>
<rect x="832.69" y="722.80" width="2.60" height="1.20" fill="#6a6f6f" opacity="0.62"/>
<rect x="838.00" y="722.80" width="2.60" height="1.20" fill="#6a6f6f" opacity="0.62"/>
<rect x="853.94" y="722.80" width="2.60" height="1.20" fill="#6a6f6f" opacity="0.62"/>
<rect x="859.25" y="722.80" width="2.60" height="1.20" fill="#6a6f6f" opacity="0.62"/>
<rect x="864.57" y="722.80" width="2.60" height="1.20" fill="#6a6f6f" opacity="0.62"/>
<rect x="875.20" y="722.80" width="2.60" height="1.20" fill="#6a6f6f" opacity="0.62"/>
<rect x="880.51" y="722.80" width="2.60" height="1.20" fill="#6a6f6f" opacity="0.79"/>
<rect x="885.82" y="722.80" width="2.60" height="1.20" fill="#6a6f6f" opacity="0.62"/>
<rect x="896.45" y="722.80" width="2.60" height="1.20" fill="#6a6f6f" opacity="0.62"/>
<rect x="901.76" y="722.80" width="2.60" height="1.20" fill="#6a6f6f" opacity="0.62"/>
<rect x="907.08" y="722.80" width="2.60" height="1.20" fill="#6a6f6f" opacity="0.62"/>
<rect x="912.39" y="716.40" width="2.60" height="7.60" fill="#cd1076"/>
<rect x="917.70" y="719.00" width="2.60" height="5.00" fill="#cd1076"/>
<rect x="923.02" y="694.00" width="2.60" height="30.00" fill="#cd1076"/>
<rect x="928.33" y="719.60" width="2.60" height="4.40" fill="#cd1076"/>
<rect x="933.64" y="714.40" width="2.60" height="9.60" fill="#cd1076"/>
<rect x="938.96" y="715.40" width="2.60" height="8.60" fill="#cd1076"/>
<rect x="944.27" y="698.00" width="2.60" height="26.00" fill="#cd1076"/>
<rect x="949.58" y="715.40" width="2.60" height="8.60" fill="#cd1076"/>
<rect x="954.90" y="718.00" width="2.60" height="6.00" fill="#cd1076"/>
<rect x="960.21" y="712.60" width="2.60" height="11.40" fill="#cd1076"/>
<rect x="965.53" y="691.00" width="2.60" height="33.00" fill="#cd1076"/>
<rect x="970.84" y="719.00" width="2.60" height="5.00" fill="#cd1076"/>
<rect x="976.15" y="719.00" width="2.60" height="5.00" fill="#cd1076"/>
<rect x="981.47" y="714.00" width="2.60" height="10.00" fill="#cd1076"/>
<rect x="986.78" y="703.40" width="2.60" height="20.60" fill="#cd1076"/>
<rect x="992.09" y="717.00" width="2.60" height="7.00" fill="#cd1076"/>
<rect x="1002.72" y="722.80" width="2.60" height="1.20" fill="#b57f66" opacity="0.68"/>
<rect x="1008.03" y="722.80" width="2.60" height="1.20" fill="#b57f66" opacity="0.68"/>
<rect x="1018.66" y="722.80" width="2.60" height="1.20" fill="#b57f66" opacity="0.52"/>
<rect x="1023.97" y="722.80" width="2.60" height="1.20" fill="#b57f66" opacity="0.90"/>
<rect x="1029.29" y="722.00" width="2.60" height="2.00" fill="#f6a37c"/>
<rect x="1045.23" y="722.80" width="2.60" height="1.20" fill="#b57f66" opacity="0.68"/>
<rect x="1050.54" y="722.80" width="2.60" height="1.20" fill="#b57f66" opacity="0.68"/>
<rect x="1055.86" y="722.80" width="2.60" height="1.20" fill="#b57f66" opacity="0.68"/>
<rect x="1061.17" y="722.80" width="2.60" height="1.20" fill="#b57f66" opacity="0.68"/>
<rect x="1066.48" y="722.80" width="2.60" height="1.20" fill="#b57f66" opacity="0.68"/>
<rect x="1071.80" y="722.80" width="2.60" height="1.20" fill="#b57f66" opacity="0.90"/>
<rect x="1077.11" y="722.80" width="2.60" height="1.20" fill="#b57f66" opacity="0.68"/>
<rect x="1087.74" y="722.80" width="2.60" height="1.20" fill="#2c6f2c" opacity="0.68"/>
<rect x="1093.05" y="722.40" width="2.60" height="1.60" fill="#238b23"/>
<rect x="1098.36" y="722.40" width="2.60" height="1.60" fill="#238b23"/>
<rect x="1103.68" y="722.80" width="2.60" height="1.20" fill="#2c6f2c" opacity="0.90"/>
<rect x="1108.99" y="721.60" width="2.60" height="2.40" fill="#238b23"/>
<rect x="1114.30" y="717.00" width="2.60" height="7.00" fill="#238b23"/>
<rect x="1119.62" y="721.60" width="2.60" height="2.40" fill="#238b23"/>
<rect x="1124.93" y="722.80" width="2.60" height="1.20" fill="#2c6f2c" opacity="0.90"/>
<rect x="1130.25" y="722.80" width="2.60" height="1.20" fill="#2c6f2c" opacity="0.90"/>
<rect x="1135.56" y="722.80" width="2.60" height="1.20" fill="#2c6f2c" opacity="0.90"/>
<rect x="1146.19" y="722.80" width="2.60" height="1.20" fill="#2c6f2c" opacity="0.68"/>
<rect x="1151.50" y="722.80" width="2.60" height="1.20" fill="#2c6f2c" opacity="0.90"/>
<rect x="1156.81" y="722.80" width="2.60" height="1.20" fill="#2c6f2c" opacity="0.90"/>
<rect x="1162.13" y="722.80" width="2.60" height="1.20" fill="#2c6f2c" opacity="0.90"/>
<rect x="1194.01" y="722.80" width="2.60" height="1.20" fill="#5776ae" opacity="0.68"/>
<rect x="1199.32" y="722.80" width="2.60" height="1.20" fill="#5776ae" opacity="0.68"/>
<rect x="1225.89" y="722.80" width="2.60" height="1.20" fill="#5776ae" opacity="0.68"/>
<rect x="1231.20" y="722.80" width="2.60" height="1.20" fill="#5776ae" opacity="0.68"/>
<rect x="1241.83" y="722.80" width="2.60" height="1.20" fill="#5776ae" opacity="0.68"/>
<rect x="1247.14" y="722.80" width="2.60" height="1.20" fill="#5776ae" opacity="0.68"/>
<text x="805.74" y="647.40" font-size="16.5" fill="#000" stroke="#000" textLength="344.72" lengthAdjust="spacingAndGlyphs">Signature_1 like; cosine−similarity: 0.932</text>
<text x="743.74" y="665.70" font-size="16.5" fill="#000" stroke="#000" textLength="470.61" lengthAdjust="spacingAndGlyphs">Etiology: spontaneous deamination of 5−methylcytosine</text>
<text x="121.29" y="459.70" font-size="22.0" fill="#000" stroke="#000">C&gt;A</text>
<text x="205.90" y="459.70" font-size="22.0" fill="#000" stroke="#000">C&gt;G</text>
<text x="292.19" y="459.70" font-size="22.0" fill="#000" stroke="#000">C&gt;T</text>
<text x="377.91" y="459.70" font-size="22.0" fill="#000" stroke="#000">T&gt;A</text>
<text x="462.73" y="459.70" font-size="22.0" fill="#000" stroke="#000">T&gt;C</text>
<text x="547.55" y="459.70" font-size="22.0" fill="#000" stroke="#000">T&gt;G</text>
<text x="755.54" y="768.90" font-size="23.0" fill="#000" stroke="#000" textLength="49.01" lengthAdjust="spacingAndGlyphs">C&gt;A</text>
<text x="840.12" y="768.90" font-size="23.0" fill="#000" stroke="#000" textLength="51.76" lengthAdjust="spacingAndGlyphs">C&gt;G</text>
<text x="926.60" y="768.90" font-size="23.0" fill="#000" stroke="#000" textLength="47.62" lengthAdjust="spacingAndGlyphs">C&gt;T</text>
<text x="1012.42" y="768.90" font-size="23.0" fill="#000" stroke="#000" textLength="46.24" lengthAdjust="spacingAndGlyphs">T&gt;A</text>
<text x="1097.24" y="768.90" font-size="23.0" fill="#000" stroke="#000" textLength="47.62" lengthAdjust="spacingAndGlyphs">T&gt;C</text>
<text x="1182.05" y="768.90" font-size="23.0" fill="#000" stroke="#000" textLength="49.00" lengthAdjust="spacingAndGlyphs">T&gt;G</text>
<text x="45.29" y="561.30" font-size="18.5" fill="#000" stroke="#000" textLength="303.22" lengthAdjust="spacingAndGlyphs">Mutation load between APOBEC &amp;</text>
<text x="51.80" y="582.40" font-size="18.5" fill="#000" stroke="#000" textLength="280.21" lengthAdjust="spacingAndGlyphs">non-APOBEC enriched samples</text>
<line x1="79.10" y1="604.60" x2="79.10" y2="1187.74" stroke="#000" stroke-width="3"/>
<line x1="74.40" y1="605.80" x2="79.10" y2="605.80" stroke="#000" stroke-width="2.5"/>
<text x="37.81" y="611.65" font-size="19.4" fill="#000" stroke="#000" textLength="34.81" lengthAdjust="spacingAndGlyphs">354</text>
<line x1="74.40" y1="749.67" x2="79.10" y2="749.67" stroke="#000" stroke-width="2.5"/>
<text x="38.36" y="755.30" font-size="19.4" fill="#000" stroke="#000" textLength="34.37" lengthAdjust="spacingAndGlyphs">272</text>
<line x1="74.40" y1="893.54" x2="79.10" y2="893.54" stroke="#000" stroke-width="2.5"/>
<text x="38.58" y="898.30" font-size="19.4" fill="#000" stroke="#000" textLength="33.19" lengthAdjust="spacingAndGlyphs">190</text>
<line x1="74.40" y1="1037.41" x2="79.10" y2="1037.41" stroke="#000" stroke-width="2.5"/>
<text x="38.55" y="1042.40" font-size="19.4" fill="#000" stroke="#000" textLength="34.04" lengthAdjust="spacingAndGlyphs">108</text>
<line x1="74.40" y1="1186.54" x2="79.10" y2="1186.54" stroke="#000" stroke-width="2.5"/>
<text x="46.41" y="1190.50" font-size="19.4" fill="#000" stroke="#000" textLength="24.04" lengthAdjust="spacingAndGlyphs">23</text>
<text transform="translate(21.20,996.01) rotate(-90)" x="0" y="0" font-size="21.4" fill="#000" stroke="#000" textLength="229.16" lengthAdjust="spacingAndGlyphs">Variants per sample</text>
<rect x="99.2" y="757" width="45.2" height="151.6" fill="none" stroke="#b03060" stroke-width="1.6"/>
<line x1="121.80" y1="611.60" x2="121.80" y2="757.00" stroke="#b03060" stroke-width="1.5"/>
<line x1="121.80" y1="908.60" x2="121.80" y2="1015.50" stroke="#b03060" stroke-width="1.5"/>
<line x1="99.20" y1="846.10" x2="144.40" y2="846.10" stroke="#b03060" stroke-width="4.2"/>
<rect x="173.7" y="884.4" width="44.2" height="159.9" fill="none" stroke="#4169e1" stroke-width="1.6"/>
<line x1="195.30" y1="680.00" x2="195.30" y2="884.40" stroke="#4169e1" stroke-width="1.5"/>
<line x1="195.30" y1="1044.30" x2="195.30" y2="1179.40" stroke="#4169e1" stroke-width="1.5"/>
<line x1="173.70" y1="953.00" x2="217.90" y2="953.00" stroke="#4169e1" stroke-width="4.4"/>
<path d="M149.10,606.80l0.00,-3.90M149.10,606.80l3.71,-1.21M149.10,606.80l2.29,3.16M149.10,606.80l-2.29,3.16M149.10,606.80l-3.71,-1.21" stroke="#000" stroke-width="2.2" stroke-linecap="round" fill="none"/>
<path d="M162.20,606.80l0.00,-3.90M162.20,606.80l3.71,-1.21M162.20,606.80l2.29,3.16M162.20,606.80l-2.29,3.16M162.20,606.80l-3.71,-1.21" stroke="#000" stroke-width="2.2" stroke-linecap="round" fill="none"/>
<path d="M175.30,606.80l0.00,-3.90M175.30,606.80l3.71,-1.21M175.30,606.80l2.29,3.16M175.30,606.80l-2.29,3.16M175.30,606.80l-3.71,-1.21" stroke="#000" stroke-width="2.2" stroke-linecap="round" fill="none"/>
<text x="103.09" y="1202.90" font-size="20.5" fill="#000" stroke="#000" textLength="50.28" lengthAdjust="spacingAndGlyphs">N=25</text>
<text x="177.09" y="1202.90" font-size="20.5" fill="#000" stroke="#000" textLength="47.47" lengthAdjust="spacingAndGlyphs">N=71</text>
<circle cx="350.5" cy="723.5" r="51.55" fill="none" stroke="#9ecae1" stroke-width="41.50"/>
<path d="M350.50,651.20 A72.3,72.3 0 0 1 421.60,736.60 L380.79,729.08 A30.8,30.8 0 0 0 350.50,692.70 Z" fill="#0b4a98"/>
<line x1="350.50" y1="693.20" x2="350.50" y2="650.70" stroke="#fff" stroke-width="1.4"/>
<line x1="380.30" y1="728.99" x2="422.09" y2="736.69" stroke="#fff" stroke-width="1.4"/>
<circle cx="543.0" cy="728.5" r="51.70" fill="none" stroke="#9ecae1" stroke-width="41.60"/>
<path d="M543.00,656.00 A72.5,72.5 0 0 1 575.51,663.70 L556.86,700.88 A30.9,30.9 0 0 0 543.00,697.60 Z" fill="#0b4a98"/>
<line x1="543.00" y1="698.10" x2="543.00" y2="655.50" stroke="#fff" stroke-width="1.4"/>
<line x1="556.63" y1="701.33" x2="575.73" y2="663.25" stroke="#fff" stroke-width="1.4"/>
<text x="411.58" y="599.70" font-size="20" fill="#000" stroke="#000" textLength="81.47" lengthAdjust="spacingAndGlyphs">tCw load</text>
<text x="308.56" y="631.50" font-size="19.4" fill="#000" stroke="#000" textLength="85.93" lengthAdjust="spacingAndGlyphs">APOBEC</text>
<text x="475.30" y="629.60" font-size="19.4" fill="#000" stroke="#000" textLength="130.00" lengthAdjust="spacingAndGlyphs">non-APOBEC</text>
<text x="390.35" y="662.30" font-size="19" fill="#000" stroke="#000" textLength="48.16" lengthAdjust="spacingAndGlyphs">0.279</text>
<text x="392.76" y="799.00" font-size="19" fill="#000" stroke="#000" textLength="47.26" lengthAdjust="spacingAndGlyphs">0.721</text>
<text x="556.65" y="650.50" font-size="19" fill="#000" stroke="#000" textLength="47.81" lengthAdjust="spacingAndGlyphs">0.074</text>
<text x="579.75" y="807.80" font-size="19" fill="#000" stroke="#000" textLength="48.20" lengthAdjust="spacingAndGlyphs">0.926</text>
<line x1="281.70" y1="860.61" x2="281.70" y2="1120.80" stroke="#000" stroke-width="3"/>
<line x1="276.50" y1="861.91" x2="281.70" y2="861.91" stroke="#000" stroke-width="2.5"/>
<text x="232.62" y="869.50" font-size="18.9" fill="#000" stroke="#000" textLength="39.18" lengthAdjust="spacingAndGlyphs">24%</text>
<line x1="276.50" y1="947.77" x2="281.70" y2="947.77" stroke="#000" stroke-width="2.5"/>
<text x="233.44" y="955.40" font-size="18.9" fill="#000" stroke="#000" textLength="38.34" lengthAdjust="spacingAndGlyphs">16%</text>
<line x1="276.50" y1="1033.64" x2="281.70" y2="1033.64" stroke="#000" stroke-width="2.5"/>
<text x="241.45" y="1041.70" font-size="18.9" fill="#000" stroke="#000" textLength="28.14" lengthAdjust="spacingAndGlyphs">8%</text>
<line x1="276.50" y1="1119.50" x2="281.70" y2="1119.50" stroke="#000" stroke-width="2.5"/>
<text x="241.54" y="1127.30" font-size="18.9" fill="#000" stroke="#000" textLength="28.05" lengthAdjust="spacingAndGlyphs">0%</text>
<rect x="287.90" y="904.84" width="11.70" height="214.66" fill="#b03060"/>
<path d="M293.70,892.90l0.00,-2.60M293.70,892.90l2.47,-0.80M293.70,892.90l1.53,2.10M293.70,892.90l-1.53,2.10M293.70,892.90l-2.47,-0.80" stroke="#000" stroke-width="1.6" stroke-linecap="round" fill="none"/>
<path d="M302.60,892.90l0.00,-2.60M302.60,892.90l2.47,-0.80M302.60,892.90l1.53,2.10M302.60,892.90l-1.53,2.10M302.60,892.90l-2.47,-0.80" stroke="#000" stroke-width="1.6" stroke-linecap="round" fill="none"/>
<path d="M311.40,892.90l0.00,-2.60M311.40,892.90l2.47,-0.80M311.40,892.90l1.53,2.10M311.40,892.90l-1.53,2.10M311.40,892.90l-2.47,-0.80" stroke="#000" stroke-width="1.6" stroke-linecap="round" fill="none"/>
<text transform="translate(307.00,1207.71) rotate(-90)" x="0" y="0" font-size="21.5" font-style="italic" fill="#000" stroke="#000" textLength="78.41" lengthAdjust="spacingAndGlyphs">GPR112</text>
<rect x="323.20" y="861.91" width="11.70" height="257.59" fill="#b03060"/>
<rect x="334.90" y="1104.37" width="11.90" height="15.13" fill="#4169e1"/>
<path d="M328.60,851.60l0.00,-2.60M328.60,851.60l2.47,-0.80M328.60,851.60l1.53,2.10M328.60,851.60l-1.53,2.10M328.60,851.60l-2.47,-0.80" stroke="#000" stroke-width="1.6" stroke-linecap="round" fill="none"/>
<path d="M337.60,851.60l0.00,-2.60M337.60,851.60l2.47,-0.80M337.60,851.60l1.53,2.10M337.60,851.60l-1.53,2.10M337.60,851.60l-2.47,-0.80" stroke="#000" stroke-width="1.6" stroke-linecap="round" fill="none"/>
<text transform="translate(342.30,1213.68) rotate(-90)" x="0" y="0" font-size="21.5" font-style="italic" fill="#000" stroke="#000" textLength="84.06" lengthAdjust="spacingAndGlyphs">DYNC2H</text>
<rect x="358.50" y="861.91" width="11.70" height="257.59" fill="#b03060"/>
<rect x="370.20" y="1104.37" width="11.90" height="15.13" fill="#4169e1"/>
<path d="M368.40,851.60l0.00,-2.60M368.40,851.60l2.47,-0.80M368.40,851.60l1.53,2.10M368.40,851.60l-1.53,2.10M368.40,851.60l-2.47,-0.80" stroke="#000" stroke-width="1.6" stroke-linecap="round" fill="none"/>
<path d="M376.90,851.60l0.00,-2.60M376.90,851.60l2.47,-0.80M376.90,851.60l1.53,2.10M376.90,851.60l-1.53,2.10M376.90,851.60l-2.47,-0.80" stroke="#000" stroke-width="1.6" stroke-linecap="round" fill="none"/>
<text transform="translate(377.60,1204.90) rotate(-90)" x="0" y="0" font-size="21.5" font-style="italic" fill="#000" stroke="#000" textLength="74.20" lengthAdjust="spacingAndGlyphs">ZNF292</text>
<rect x="393.80" y="947.77" width="11.70" height="171.73" fill="#b03060"/>
<path d="M401.70,938.80l0.00,-2.60M401.70,938.80l2.47,-0.80M401.70,938.80l1.53,2.10M401.70,938.80l-1.53,2.10M401.70,938.80l-2.47,-0.80" stroke="#000" stroke-width="1.6" stroke-linecap="round" fill="none"/>
<path d="M409.50,938.80l0.00,-2.60M409.50,938.80l2.47,-0.80M409.50,938.80l1.53,2.10M409.50,938.80l-1.53,2.10M409.50,938.80l-2.47,-0.80" stroke="#000" stroke-width="1.6" stroke-linecap="round" fill="none"/>
<text transform="translate(412.90,1184.82) rotate(-90)" x="0" y="0" font-size="21.5" font-style="italic" fill="#000" stroke="#000" textLength="56.23" lengthAdjust="spacingAndGlyphs">MED1</text>
<rect x="429.10" y="947.77" width="11.70" height="171.73" fill="#b03060"/>
<path d="M438.30,938.40l0.00,-2.60M438.30,938.40l2.47,-0.80M438.30,938.40l1.53,2.10M438.30,938.40l-1.53,2.10M438.30,938.40l-2.47,-0.80" stroke="#000" stroke-width="1.6" stroke-linecap="round" fill="none"/>
<path d="M446.70,938.40l0.00,-2.60M446.70,938.40l2.47,-0.80M446.70,938.40l1.53,2.10M446.70,938.40l-1.53,2.10M446.70,938.40l-2.47,-0.80" stroke="#000" stroke-width="1.6" stroke-linecap="round" fill="none"/>
<text transform="translate(448.20,1200.87) rotate(-90)" x="0" y="0" font-size="21.5" font-style="italic" fill="#000" stroke="#000" textLength="72.73" lengthAdjust="spacingAndGlyphs">TMCO7</text>
<rect x="464.40" y="904.84" width="11.70" height="214.66" fill="#b03060"/>
<rect x="476.10" y="1104.37" width="11.90" height="15.13" fill="#4169e1"/>
<path d="M471.90,897.60l0.00,-2.60M471.90,897.60l2.47,-0.80M471.90,897.60l1.53,2.10M471.90,897.60l-1.53,2.10M471.90,897.60l-2.47,-0.80" stroke="#000" stroke-width="1.6" stroke-linecap="round" fill="none"/>
<path d="M481.00,897.60l0.00,-2.60M481.00,897.60l2.47,-0.80M481.00,897.60l1.53,2.10M481.00,897.60l-1.53,2.10M481.00,897.60l-2.47,-0.80" stroke="#000" stroke-width="1.6" stroke-linecap="round" fill="none"/>
<text transform="translate(483.50,1180.37) rotate(-90)" x="0" y="0" font-size="21.5" font-style="italic" fill="#000" stroke="#000" textLength="52.42" lengthAdjust="spacingAndGlyphs">OPA1</text>
<rect x="499.70" y="904.84" width="11.70" height="214.66" fill="#b03060"/>
<rect x="511.40" y="1104.37" width="11.90" height="15.13" fill="#4169e1"/>
<path d="M511.30,897.60l0.00,-2.60M511.30,897.60l2.47,-0.80M511.30,897.60l1.53,2.10M511.30,897.60l-1.53,2.10M511.30,897.60l-2.47,-0.80" stroke="#000" stroke-width="1.6" stroke-linecap="round" fill="none"/>
<path d="M520.40,897.60l0.00,-2.60M520.40,897.60l2.47,-0.80M520.40,897.60l1.53,2.10M520.40,897.60l-1.53,2.10M520.40,897.60l-2.47,-0.80" stroke="#000" stroke-width="1.6" stroke-linecap="round" fill="none"/>
<text transform="translate(518.80,1191.84) rotate(-90)" x="0" y="0" font-size="21.5" font-style="italic" fill="#000" stroke="#000" textLength="63.24" lengthAdjust="spacingAndGlyphs">RIMS2</text>
<rect x="535.00" y="947.77" width="11.70" height="171.73" fill="#b03060"/>
<rect x="546.70" y="1104.37" width="11.90" height="15.13" fill="#4169e1"/>
<path d="M546.10,937.90l0.00,-2.60M546.10,937.90l2.47,-0.80M546.10,937.90l1.53,2.10M546.10,937.90l-1.53,2.10M546.10,937.90l-2.47,-0.80" stroke="#000" stroke-width="1.6" stroke-linecap="round" fill="none"/>
<text transform="translate(554.10,1182.04) rotate(-90)" x="0" y="0" font-size="21.5" font-style="italic" fill="#000" stroke="#000" textLength="54.19" lengthAdjust="spacingAndGlyphs">BDP1</text>
<rect x="570.30" y="947.77" width="11.70" height="171.73" fill="#b03060"/>
<rect x="582.00" y="1104.37" width="11.90" height="15.13" fill="#4169e1"/>
<path d="M583.00,937.90l0.00,-2.60M583.00,937.90l2.47,-0.80M583.00,937.90l1.53,2.10M583.00,937.90l-1.53,2.10M583.00,937.90l-2.47,-0.80" stroke="#000" stroke-width="1.6" stroke-linecap="round" fill="none"/>
<text transform="translate(589.40,1185.34) rotate(-90)" x="0" y="0" font-size="21.5" font-style="italic" fill="#000" stroke="#000" textLength="57.36" lengthAdjust="spacingAndGlyphs">CARS</text>
<rect x="605.60" y="947.77" width="11.70" height="171.73" fill="#b03060"/>
<rect x="617.30" y="1104.37" width="11.90" height="15.13" fill="#4169e1"/>
<path d="M619.80,938.80l0.00,-2.60M619.80,938.80l2.47,-0.80M619.80,938.80l1.53,2.10M619.80,938.80l-1.53,2.10M619.80,938.80l-2.47,-0.80" stroke="#000" stroke-width="1.6" stroke-linecap="round" fill="none"/>
<text transform="translate(624.70,1193.04) rotate(-90)" x="0" y="0" font-size="21.5" font-style="italic" fill="#000" stroke="#000" textLength="68.68" lengthAdjust="spacingAndGlyphs">CNTN1</text>
<text x="713.44" y="853.80" font-size="21.5" fill="#000" stroke="#000" textLength="345.87" lengthAdjust="spacingAndGlyphs">Signature_6: defective MMR (n = 56)</text>
<text x="1106.50" y="853.80" font-size="21.5" fill="#000" stroke="#000" textLength="113.31" lengthAdjust="spacingAndGlyphs">Rest (n = 40)</text>
<text x="700.50" y="905.40" font-size="27.5" fill="#000" stroke="#000" textLength="49.89" lengthAdjust="spacingAndGlyphs">16%</text>
<text x="961.25" y="905.40" font-size="27.5" font-style="italic" fill="#000" stroke="#000" textLength="103.34" lengthAdjust="spacingAndGlyphs">TGFBR2</text>
<text x="1221.45" y="905.40" font-size="27.5" fill="#000" stroke="#000" textLength="39.02" lengthAdjust="spacingAndGlyphs">0%</text>
<line x1="760.50" y1="867.30" x2="760.50" y2="923.10" stroke="#2e8b3a" stroke-width="1.5"/>
<line x1="763.95" y1="867.30" x2="763.95" y2="923.10" stroke="#5a7fb0" stroke-width="1.5"/>
<line x1="767.40" y1="867.30" x2="767.40" y2="923.10" stroke="#2e8b3a" stroke-width="1.5"/>
<line x1="770.85" y1="867.30" x2="770.85" y2="923.10" stroke="#d9534f" stroke-width="1.5"/>
<line x1="774.30" y1="867.30" x2="774.30" y2="923.10" stroke="#3d8f3d" stroke-width="1.5"/>
<line x1="777.75" y1="867.30" x2="777.75" y2="923.10" stroke="#3d8f3d" stroke-width="1.5"/>
<line x1="781.20" y1="867.30" x2="781.20" y2="923.10" stroke="#4a8cbf" stroke-width="1.5"/>
<line x1="784.65" y1="867.30" x2="784.65" y2="923.10" stroke="#2e7d32" stroke-width="1.5"/>
<line x1="788.10" y1="867.30" x2="788.10" y2="923.10" stroke="#6a9f6a" stroke-width="1.5"/>
<line x1="791.55" y1="867.30" x2="791.55" y2="923.10" stroke="#c8c8c8" stroke-width="1.5"/>
<line x1="795.00" y1="867.30" x2="795.00" y2="923.10" stroke="#c8c8c8" stroke-width="1.5"/>
<line x1="798.45" y1="867.30" x2="798.45" y2="923.10" stroke="#c8c8c8" stroke-width="1.5"/>
<line x1="801.90" y1="867.30" x2="801.90" y2="923.10" stroke="#c8c8c8" stroke-width="1.5"/>
<line x1="805.35" y1="867.30" x2="805.35" y2="923.10" stroke="#c8c8c8" stroke-width="1.5"/>
<line x1="808.80" y1="867.30" x2="808.80" y2="923.10" stroke="#c8c8c8" stroke-width="1.5"/>
<line x1="812.25" y1="867.30" x2="812.25" y2="923.10" stroke="#c8c8c8" stroke-width="1.5"/>
<line x1="815.70" y1="867.30" x2="815.70" y2="923.10" stroke="#c8c8c8" stroke-width="1.5"/>
<line x1="819.15" y1="867.30" x2="819.15" y2="923.10" stroke="#c8c8c8" stroke-width="1.5"/>
<line x1="822.60" y1="867.30" x2="822.60" y2="923.10" stroke="#c8c8c8" stroke-width="1.5"/>
<line x1="826.05" y1="867.30" x2="826.05" y2="923.10" stroke="#c8c8c8" stroke-width="1.5"/>
<line x1="829.50" y1="867.30" x2="829.50" y2="923.10" stroke="#c8c8c8" stroke-width="1.5"/>
<line x1="832.95" y1="867.30" x2="832.95" y2="923.10" stroke="#c8c8c8" stroke-width="1.5"/>
<line x1="836.40" y1="867.30" x2="836.40" y2="923.10" stroke="#c8c8c8" stroke-width="1.5"/>
<line x1="839.85" y1="867.30" x2="839.85" y2="923.10" stroke="#c8c8c8" stroke-width="1.5"/>
<line x1="843.30" y1="867.30" x2="843.30" y2="923.10" stroke="#c8c8c8" stroke-width="1.5"/>
<line x1="846.75" y1="867.30" x2="846.75" y2="923.10" stroke="#c8c8c8" stroke-width="1.5"/>
<line x1="850.20" y1="867.30" x2="850.20" y2="923.10" stroke="#c8c8c8" stroke-width="1.5"/>
<line x1="853.65" y1="867.30" x2="853.65" y2="923.10" stroke="#c8c8c8" stroke-width="1.5"/>
<line x1="857.10" y1="867.30" x2="857.10" y2="923.10" stroke="#c8c8c8" stroke-width="1.5"/>
<line x1="860.55" y1="867.30" x2="860.55" y2="923.10" stroke="#c8c8c8" stroke-width="1.5"/>
<line x1="864.00" y1="867.30" x2="864.00" y2="923.10" stroke="#c8c8c8" stroke-width="1.5"/>
<line x1="867.45" y1="867.30" x2="867.45" y2="923.10" stroke="#c8c8c8" stroke-width="1.5"/>
<line x1="870.90" y1="867.30" x2="870.90" y2="923.10" stroke="#c8c8c8" stroke-width="1.5"/>
<line x1="874.35" y1="867.30" x2="874.35" y2="923.10" stroke="#c8c8c8" stroke-width="1.5"/>
<line x1="877.80" y1="867.30" x2="877.80" y2="923.10" stroke="#c8c8c8" stroke-width="1.5"/>
<line x1="881.25" y1="867.30" x2="881.25" y2="923.10" stroke="#c8c8c8" stroke-width="1.5"/>
<line x1="884.70" y1="867.30" x2="884.70" y2="923.10" stroke="#c8c8c8" stroke-width="1.5"/>
<line x1="888.15" y1="867.30" x2="888.15" y2="923.10" stroke="#c8c8c8" stroke-width="1.5"/>
<line x1="891.60" y1="867.30" x2="891.60" y2="923.10" stroke="#c8c8c8" stroke-width="1.5"/>
<line x1="895.05" y1="867.30" x2="895.05" y2="923.10" stroke="#c8c8c8" stroke-width="1.5"/>
<line x1="898.50" y1="867.30" x2="898.50" y2="923.10" stroke="#c8c8c8" stroke-width="1.5"/>
<line x1="901.95" y1="867.30" x2="901.95" y2="923.10" stroke="#c8c8c8" stroke-width="1.5"/>
<line x1="905.40" y1="867.30" x2="905.40" y2="923.10" stroke="#c8c8c8" stroke-width="1.5"/>
<line x1="908.85" y1="867.30" x2="908.85" y2="923.10" stroke="#c8c8c8" stroke-width="1.5"/>
<line x1="912.30" y1="867.30" x2="912.30" y2="923.10" stroke="#c8c8c8" stroke-width="1.5"/>
<line x1="915.75" y1="867.30" x2="915.75" y2="923.10" stroke="#c8c8c8" stroke-width="1.5"/>
<line x1="919.20" y1="867.30" x2="919.20" y2="923.10" stroke="#c8c8c8" stroke-width="1.5"/>
<line x1="922.65" y1="867.30" x2="922.65" y2="923.10" stroke="#c8c8c8" stroke-width="1.5"/>
<line x1="926.10" y1="867.30" x2="926.10" y2="923.10" stroke="#c8c8c8" stroke-width="1.5"/>
<line x1="929.55" y1="867.30" x2="929.55" y2="923.10" stroke="#c8c8c8" stroke-width="1.5"/>
<line x1="933.00" y1="867.30" x2="933.00" y2="923.10" stroke="#c8c8c8" stroke-width="1.5"/>
<line x1="936.45" y1="867.30" x2="936.45" y2="923.10" stroke="#c8c8c8" stroke-width="1.5"/>
<line x1="939.90" y1="867.30" x2="939.90" y2="923.10" stroke="#c8c8c8" stroke-width="1.5"/>
<line x1="943.35" y1="867.30" x2="943.35" y2="923.10" stroke="#c8c8c8" stroke-width="1.5"/>
<line x1="946.80" y1="867.30" x2="946.80" y2="923.10" stroke="#c8c8c8" stroke-width="1.5"/>
<line x1="950.25" y1="867.30" x2="950.25" y2="923.10" stroke="#c8c8c8" stroke-width="1.5"/>
<line x1="1079.90" y1="867.30" x2="1079.90" y2="923.10" stroke="#c8c8c8" stroke-width="1.5"/>
<line x1="1083.35" y1="867.30" x2="1083.35" y2="923.10" stroke="#c8c8c8" stroke-width="1.5"/>
<line x1="1086.79" y1="867.30" x2="1086.79" y2="923.10" stroke="#c8c8c8" stroke-width="1.5"/>
<line x1="1090.24" y1="867.30" x2="1090.24" y2="923.10" stroke="#c8c8c8" stroke-width="1.5"/>
<line x1="1093.68" y1="867.30" x2="1093.68" y2="923.10" stroke="#c8c8c8" stroke-width="1.5"/>
<line x1="1097.13" y1="867.30" x2="1097.13" y2="923.10" stroke="#c8c8c8" stroke-width="1.5"/>
<line x1="1100.58" y1="867.30" x2="1100.58" y2="923.10" stroke="#c8c8c8" stroke-width="1.5"/>
<line x1="1104.02" y1="867.30" x2="1104.02" y2="923.10" stroke="#c8c8c8" stroke-width="1.5"/>
<line x1="1107.47" y1="867.30" x2="1107.47" y2="923.10" stroke="#c8c8c8" stroke-width="1.5"/>
<line x1="1110.91" y1="867.30" x2="1110.91" y2="923.10" stroke="#c8c8c8" stroke-width="1.5"/>
<line x1="1114.36" y1="867.30" x2="1114.36" y2="923.10" stroke="#c8c8c8" stroke-width="1.5"/>
<line x1="1117.81" y1="867.30" x2="1117.81" y2="923.10" stroke="#c8c8c8" stroke-width="1.5"/>
<line x1="1121.25" y1="867.30" x2="1121.25" y2="923.10" stroke="#c8c8c8" stroke-width="1.5"/>
<line x1="1124.70" y1="867.30" x2="1124.70" y2="923.10" stroke="#c8c8c8" stroke-width="1.5"/>
<line x1="1128.14" y1="867.30" x2="1128.14" y2="923.10" stroke="#c8c8c8" stroke-width="1.5"/>
<line x1="1131.59" y1="867.30" x2="1131.59" y2="923.10" stroke="#c8c8c8" stroke-width="1.5"/>
<line x1="1135.04" y1="867.30" x2="1135.04" y2="923.10" stroke="#c8c8c8" stroke-width="1.5"/>
<line x1="1138.48" y1="867.30" x2="1138.48" y2="923.10" stroke="#c8c8c8" stroke-width="1.5"/>
<line x1="1141.93" y1="867.30" x2="1141.93" y2="923.10" stroke="#c8c8c8" stroke-width="1.5"/>
<line x1="1145.37" y1="867.30" x2="1145.37" y2="923.10" stroke="#c8c8c8" stroke-width="1.5"/>
<line x1="1148.82" y1="867.30" x2="1148.82" y2="923.10" stroke="#c8c8c8" stroke-width="1.5"/>
<line x1="1152.27" y1="867.30" x2="1152.27" y2="923.10" stroke="#c8c8c8" stroke-width="1.5"/>
<line x1="1155.71" y1="867.30" x2="1155.71" y2="923.10" stroke="#c8c8c8" stroke-width="1.5"/>
<line x1="1159.16" y1="867.30" x2="1159.16" y2="923.10" stroke="#c8c8c8" stroke-width="1.5"/>
<line x1="1162.60" y1="867.30" x2="1162.60" y2="923.10" stroke="#c8c8c8" stroke-width="1.5"/>
<line x1="1166.05" y1="867.30" x2="1166.05" y2="923.10" stroke="#c8c8c8" stroke-width="1.5"/>
<line x1="1169.50" y1="867.30" x2="1169.50" y2="923.10" stroke="#c8c8c8" stroke-width="1.5"/>
<line x1="1172.94" y1="867.30" x2="1172.94" y2="923.10" stroke="#c8c8c8" stroke-width="1.5"/>
<line x1="1176.39" y1="867.30" x2="1176.39" y2="923.10" stroke="#c8c8c8" stroke-width="1.5"/>
<line x1="1179.83" y1="867.30" x2="1179.83" y2="923.10" stroke="#c8c8c8" stroke-width="1.5"/>
<line x1="1183.28" y1="867.30" x2="1183.28" y2="923.10" stroke="#c8c8c8" stroke-width="1.5"/>
<line x1="1186.73" y1="867.30" x2="1186.73" y2="923.10" stroke="#c8c8c8" stroke-width="1.5"/>
<line x1="1190.17" y1="867.30" x2="1190.17" y2="923.10" stroke="#c8c8c8" stroke-width="1.5"/>
<line x1="1193.62" y1="867.30" x2="1193.62" y2="923.10" stroke="#c8c8c8" stroke-width="1.5"/>
<line x1="1197.06" y1="867.30" x2="1197.06" y2="923.10" stroke="#c8c8c8" stroke-width="1.5"/>
<line x1="1200.51" y1="867.30" x2="1200.51" y2="923.10" stroke="#c8c8c8" stroke-width="1.5"/>
<line x1="1203.96" y1="867.30" x2="1203.96" y2="923.10" stroke="#c8c8c8" stroke-width="1.5"/>
<line x1="1207.40" y1="867.30" x2="1207.40" y2="923.10" stroke="#c8c8c8" stroke-width="1.5"/>
<line x1="1210.85" y1="867.30" x2="1210.85" y2="923.10" stroke="#c8c8c8" stroke-width="1.5"/>
<line x1="1214.29" y1="867.30" x2="1214.29" y2="923.10" stroke="#c8c8c8" stroke-width="1.5"/>
<text x="728.68" y="1017.50" font-size="20" font-style="italic" fill="#2070b0" stroke="#2070b0" textLength="85.38" lengthAdjust="spacingAndGlyphs">TGFBR2:</text>
<text x="819.62" y="1017.50" font-size="20" fill="#2070b0" stroke="#2070b0" textLength="291.35" lengthAdjust="spacingAndGlyphs">[Somatic Mutation Rate: 9.38%]</text>
<text x="729.95" y="1040.30" font-size="16.5" font-style="italic" fill="#2070b0" stroke="#2070b0" textLength="126.50" lengthAdjust="spacingAndGlyphs">NM_001024847</text>
<line x1="721.00" y1="1031.00" x2="721.00" y2="1119.00" stroke="#000" stroke-width="1.4"/>
<line x1="717.50" y1="1031.00" x2="721.00" y2="1031.00" stroke="#000" stroke-width="1.4"/>
<line x1="717.50" y1="1119.00" x2="721.00" y2="1119.00" stroke="#000" stroke-width="1.4"/>
<text x="701.71" y="1040.80" font-size="19.5" fill="#000" stroke="#000" textLength="10.91" lengthAdjust="spacingAndGlyphs">5</text>
<text x="701.94" y="1128.80" font-size="19.5" fill="#000" stroke="#000" textLength="9.93" lengthAdjust="spacingAndGlyphs">1</text>
<text transform="translate(697.20,1127.89) rotate(-90)" x="0" y="0" font-size="20.5" fill="#000" stroke="#000" textLength="104.42" lengthAdjust="spacingAndGlyphs"># Mutations</text>
<rect x="721.00" y="1145.50" width="531.00" height="13.30" fill="#bebebe"/>
<rect x="786.44" y="1143.20" width="92.34" height="17.50" fill="#5fbf9f"/>
<rect x="963.05" y="1143.20" width="4.03" height="17.50" fill="#f08a5d"/>
<rect x="967.09" y="1143.20" width="186.02" height="17.50" fill="#8fa3d6"/>
<rect x="1153.11" y="1143.20" width="68.13" height="17.50" fill="#f4956a"/>
<text x="794.39" y="1157.80" font-size="17" fill="#000" stroke="#000" textLength="81.24" lengthAdjust="spacingAndGlyphs">ecTbetaR2</text>
<text x="1045.37" y="1157.60" font-size="17" fill="#000" stroke="#000" textLength="30.82" lengthAdjust="spacingAndGlyphs">PKc</text>
<text x="1162.90" y="1157.60" font-size="17" fill="#000" stroke="#000" textLength="58.58" lengthAdjust="spacingAndGlyphs">Pkinase</text>
<line x1="721.00" y1="1162.60" x2="1254.42" y2="1162.60" stroke="#000" stroke-width="1.4"/>
<line x1="721.00" y1="1162.60" x2="721.00" y2="1167.60" stroke="#000" stroke-width="1.4"/>
<line x1="810.65" y1="1162.60" x2="810.65" y2="1167.60" stroke="#000" stroke-width="1.4"/>
<line x1="900.30" y1="1162.60" x2="900.30" y2="1167.60" stroke="#000" stroke-width="1.4"/>
<line x1="989.95" y1="1162.60" x2="989.95" y2="1167.60" stroke="#000" stroke-width="1.4"/>
<line x1="1079.60" y1="1162.60" x2="1079.60" y2="1167.60" stroke="#000" stroke-width="1.4"/>
<line x1="1169.25" y1="1162.60" x2="1169.25" y2="1167.60" stroke="#000" stroke-width="1.4"/>
<line x1="1254.42" y1="1162.60" x2="1254.42" y2="1167.60" stroke="#000" stroke-width="1.4"/>
<text x="712.03" y="1183.50" font-size="19.5" fill="#000" stroke="#000" textLength="10.94" lengthAdjust="spacingAndGlyphs">0</text>
<text x="791.36" y="1183.50" font-size="19.5" fill="#000" stroke="#000" textLength="35.99" lengthAdjust="spacingAndGlyphs">100</text>
<text x="881.43" y="1183.50" font-size="19.5" fill="#000" stroke="#000" textLength="35.40" lengthAdjust="spacingAndGlyphs">200</text>
<text x="972.22" y="1183.50" font-size="19.5" fill="#000" stroke="#000" textLength="34.34" lengthAdjust="spacingAndGlyphs">300</text>
<text x="1062.02" y="1183.50" font-size="19.5" fill="#000" stroke="#000" textLength="34.79" lengthAdjust="spacingAndGlyphs">400</text>
<text x="1151.16" y="1183.50" font-size="19.5" fill="#000" stroke="#000" textLength="35.17" lengthAdjust="spacingAndGlyphs">500</text>
<text x="1237.17" y="1183.50" font-size="19.5" fill="#000" stroke="#000" textLength="34.44" lengthAdjust="spacingAndGlyphs">595</text>
<line x1="807.06" y1="1123.00" x2="807.06" y2="1143.20" stroke="#a0a0a0" stroke-width="1.3"/>
<line x1="833.06" y1="1101.00" x2="833.06" y2="1143.20" stroke="#a0a0a0" stroke-width="1.3"/>
<line x1="855.48" y1="1123.00" x2="855.48" y2="1143.20" stroke="#a0a0a0" stroke-width="1.3"/>
<line x1="1083.19" y1="1123.00" x2="1083.19" y2="1143.20" stroke="#a0a0a0" stroke-width="1.3"/>
<line x1="1102.01" y1="1123.00" x2="1102.01" y2="1143.20" stroke="#a0a0a0" stroke-width="1.3"/>
<line x1="1102.91" y1="1123.00" x2="1102.91" y2="1143.20" stroke="#a0a0a0" stroke-width="1.3"/>
<line x1="1120.84" y1="1123.00" x2="1120.84" y2="1143.20" stroke="#a0a0a0" stroke-width="1.3"/>
<line x1="1196.14" y1="1123.00" x2="1196.14" y2="1143.20" stroke="#a0a0a0" stroke-width="1.3"/>
<circle cx="807.06" cy="1118.60" r="5.2" fill="#58b458" fill-opacity="0.9" stroke="#4f9a4f" stroke-opacity="0.6" stroke-width="0.8"/>
<circle cx="833.06" cy="1096.60" r="5.2" fill="#464646" fill-opacity="0.9" stroke="#333333" stroke-opacity="0.6" stroke-width="0.8"/>
<circle cx="855.48" cy="1118.60" r="5.2" fill="#464646" fill-opacity="0.9" stroke="#333333" stroke-opacity="0.6" stroke-width="0.8"/>
<circle cx="1083.19" cy="1118.60" r="5.2" fill="#58b458" fill-opacity="0.9" stroke="#4f9a4f" stroke-opacity="0.6" stroke-width="0.8"/>
<circle cx="1102.01" cy="1118.60" r="5.2" fill="#58b458" fill-opacity="0.9" stroke="#4f9a4f" stroke-opacity="0.6" stroke-width="0.8"/>
<circle cx="1102.91" cy="1118.60" r="5.2" fill="#58b458" fill-opacity="0.9" stroke="#4f9a4f" stroke-opacity="0.6" stroke-width="0.8"/>
<circle cx="1120.84" cy="1118.60" r="5.2" fill="#58b458" fill-opacity="0.9" stroke="#4f9a4f" stroke-opacity="0.6" stroke-width="0.8"/>
<circle cx="1196.14" cy="1118.60" r="5.2" fill="#58b458" fill-opacity="0.9" stroke="#4f9a4f" stroke-opacity="0.6" stroke-width="0.8"/>
<line x1="1082.50" y1="1099.90" x2="1103.10" y2="1119.80" stroke="#000" stroke-width="1.5"/>
<line x1="1124.70" y1="1099.50" x2="1103.10" y2="1119.80" stroke="#000" stroke-width="1.5"/>
<text x="763.28" y="1123.60" font-size="15" fill="#000" stroke="#000" textLength="34.05" lengthAdjust="spacingAndGlyphs">T96A</text>
<text x="813.97" y="1085.60" font-size="15" fill="#000" stroke="#000">E125fs</text>
<text x="864.24" y="1123.60" font-size="15" fill="#000" stroke="#000" textLength="39.79" lengthAdjust="spacingAndGlyphs">S150*</text>
<text x="1031.79" y="1123.60" font-size="15" fill="#000" stroke="#000" textLength="42.78" lengthAdjust="spacingAndGlyphs">L404V</text>
<text x="1051.78" y="1097.10" font-size="15" fill="#000" stroke="#000" textLength="46.98" lengthAdjust="spacingAndGlyphs">M425V</text>
<text x="1117.17" y="1097.10" font-size="15" fill="#000" stroke="#000" textLength="42.96" lengthAdjust="spacingAndGlyphs">A426T</text>
<text x="1128.76" y="1123.60" font-size="15" fill="#000" stroke="#000" textLength="46.97" lengthAdjust="spacingAndGlyphs">D446N</text>
<text x="1203.91" y="1123.60" font-size="15" fill="#000" stroke="#000">T530I</text>
<circle cx="994" cy="1050.2" r="5.4" fill="#58b458" stroke="#4f9a4f" stroke-opacity="0.6" stroke-width="0.8"/>
<circle cx="1105.3" cy="1050.8" r="5.4" fill="#464646"/>
<text x="1006.53" y="1055.00" font-size="18" fill="#000" stroke="#000" textLength="75.51" lengthAdjust="spacingAndGlyphs">Missense</text>
<text x="1117.12" y="1055.80" font-size="18" fill="#000" stroke="#000" textLength="80.48" lengthAdjust="spacingAndGlyphs">Truncating</text>
</svg>
</body></html>
